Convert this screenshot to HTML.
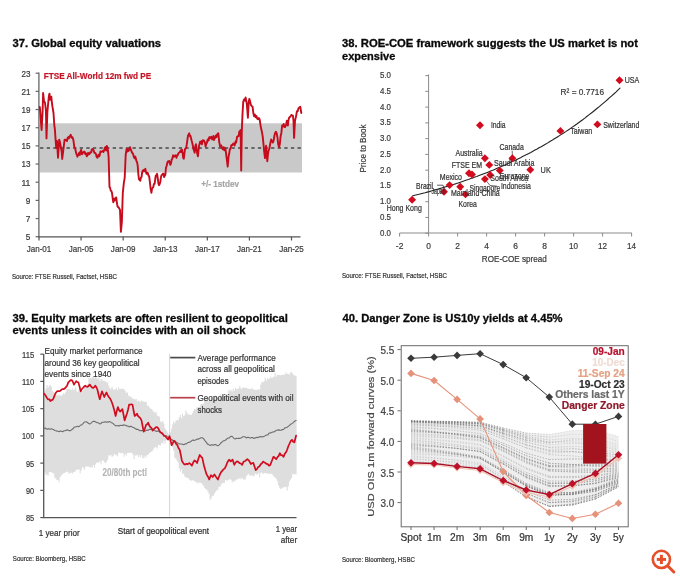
<!DOCTYPE html>
<html><head><meta charset="utf-8"><title>Charts</title>
<style>html,body{margin:0;padding:0;background:#fff;}svg{display:block;}text{font-family:'Liberation Sans', Arial, Helvetica, sans-serif;}</style>
</head><body>
<svg width="680" height="578" viewBox="0 0 680 578">
<rect width="680" height="578" fill="#fff"/>
<text x="12.5" y="46.6" font-size="10.6" fill="#0a0a0a" font-weight="bold" text-anchor="start" textLength="148.5" lengthAdjust="spacingAndGlyphs" stroke="#0a0a0a" stroke-width="0.3">37. Global equity valuations</text>
<rect x="39.5" y="123.3" width="262.5" height="49.2" fill="#c9c9c9"/>
<line x1="40.1" y1="148" x2="302" y2="148" stroke="#474747" stroke-width="1.5" stroke-dasharray="3.3,3.3"/>
<line x1="38.9" y1="72.5" x2="38.9" y2="237.5" stroke="#666" stroke-width="1.3"/>
<line x1="38.5" y1="236.8" x2="300.5" y2="236.8" stroke="#555" stroke-width="1.3"/>
<line x1="35.6" y1="73.2" x2="38.9" y2="73.2" stroke="#666" stroke-width="1.2"/>
<text x="30.4" y="76.60000000000001" font-size="9.6" fill="#3a3a3a" text-anchor="end" textLength="9.0" lengthAdjust="spacingAndGlyphs" stroke="#3a3a3a" stroke-width="0.22">23</text>
<line x1="35.6" y1="91.37" x2="38.9" y2="91.37" stroke="#666" stroke-width="1.2"/>
<text x="30.4" y="94.77000000000001" font-size="9.6" fill="#3a3a3a" text-anchor="end" textLength="9.0" lengthAdjust="spacingAndGlyphs" stroke="#3a3a3a" stroke-width="0.22">21</text>
<line x1="35.6" y1="109.54" x2="38.9" y2="109.54" stroke="#666" stroke-width="1.2"/>
<text x="30.4" y="112.94000000000001" font-size="9.6" fill="#3a3a3a" text-anchor="end" textLength="9.0" lengthAdjust="spacingAndGlyphs" stroke="#3a3a3a" stroke-width="0.22">19</text>
<line x1="35.6" y1="127.71000000000001" x2="38.9" y2="127.71000000000001" stroke="#666" stroke-width="1.2"/>
<text x="30.4" y="131.11" font-size="9.6" fill="#3a3a3a" text-anchor="end" textLength="9.0" lengthAdjust="spacingAndGlyphs" stroke="#3a3a3a" stroke-width="0.22">17</text>
<line x1="35.6" y1="145.88" x2="38.9" y2="145.88" stroke="#666" stroke-width="1.2"/>
<text x="30.4" y="149.28" font-size="9.6" fill="#3a3a3a" text-anchor="end" textLength="9.0" lengthAdjust="spacingAndGlyphs" stroke="#3a3a3a" stroke-width="0.22">15</text>
<line x1="35.6" y1="164.05" x2="38.9" y2="164.05" stroke="#666" stroke-width="1.2"/>
<text x="30.4" y="167.45000000000002" font-size="9.6" fill="#3a3a3a" text-anchor="end" textLength="9.0" lengthAdjust="spacingAndGlyphs" stroke="#3a3a3a" stroke-width="0.22">13</text>
<line x1="35.6" y1="182.22000000000003" x2="38.9" y2="182.22000000000003" stroke="#666" stroke-width="1.2"/>
<text x="30.4" y="185.62000000000003" font-size="9.6" fill="#3a3a3a" text-anchor="end" textLength="9.0" lengthAdjust="spacingAndGlyphs" stroke="#3a3a3a" stroke-width="0.22">11</text>
<line x1="35.6" y1="200.39000000000001" x2="38.9" y2="200.39000000000001" stroke="#666" stroke-width="1.2"/>
<text x="30.4" y="203.79000000000002" font-size="9.6" fill="#3a3a3a" text-anchor="end" textLength="4.6" lengthAdjust="spacingAndGlyphs" stroke="#3a3a3a" stroke-width="0.22">9</text>
<line x1="35.6" y1="218.56" x2="38.9" y2="218.56" stroke="#666" stroke-width="1.2"/>
<text x="30.4" y="221.96" font-size="9.6" fill="#3a3a3a" text-anchor="end" textLength="4.6" lengthAdjust="spacingAndGlyphs" stroke="#3a3a3a" stroke-width="0.22">7</text>
<line x1="35.6" y1="236.73000000000002" x2="38.9" y2="236.73000000000002" stroke="#666" stroke-width="1.2"/>
<text x="30.4" y="240.13000000000002" font-size="9.6" fill="#3a3a3a" text-anchor="end" textLength="4.6" lengthAdjust="spacingAndGlyphs" stroke="#3a3a3a" stroke-width="0.22">5</text>
<line x1="39.0" y1="236.8" x2="39.0" y2="240.5" stroke="#555" stroke-width="1.2"/>
<text x="39.0" y="251.8" font-size="9.8" fill="#3a3a3a" text-anchor="middle" textLength="24.6" lengthAdjust="spacingAndGlyphs" stroke="#3a3a3a" stroke-width="0.22">Jan-01</text>
<line x1="81.08" y1="236.8" x2="81.08" y2="240.5" stroke="#555" stroke-width="1.2"/>
<text x="81.08" y="251.8" font-size="9.8" fill="#3a3a3a" text-anchor="middle" textLength="24.6" lengthAdjust="spacingAndGlyphs" stroke="#3a3a3a" stroke-width="0.22">Jan-05</text>
<line x1="123.16" y1="236.8" x2="123.16" y2="240.5" stroke="#555" stroke-width="1.2"/>
<text x="123.16" y="251.8" font-size="9.8" fill="#3a3a3a" text-anchor="middle" textLength="24.6" lengthAdjust="spacingAndGlyphs" stroke="#3a3a3a" stroke-width="0.22">Jan-09</text>
<line x1="165.24" y1="236.8" x2="165.24" y2="240.5" stroke="#555" stroke-width="1.2"/>
<text x="165.24" y="251.8" font-size="9.8" fill="#3a3a3a" text-anchor="middle" textLength="24.6" lengthAdjust="spacingAndGlyphs" stroke="#3a3a3a" stroke-width="0.22">Jan-13</text>
<line x1="207.32" y1="236.8" x2="207.32" y2="240.5" stroke="#555" stroke-width="1.2"/>
<text x="207.32" y="251.8" font-size="9.8" fill="#3a3a3a" text-anchor="middle" textLength="24.6" lengthAdjust="spacingAndGlyphs" stroke="#3a3a3a" stroke-width="0.22">Jan-17</text>
<line x1="249.39999999999998" y1="236.8" x2="249.39999999999998" y2="240.5" stroke="#555" stroke-width="1.2"/>
<text x="249.39999999999998" y="251.8" font-size="9.8" fill="#3a3a3a" text-anchor="middle" textLength="24.6" lengthAdjust="spacingAndGlyphs" stroke="#3a3a3a" stroke-width="0.22">Jan-21</text>
<line x1="291.48" y1="236.8" x2="291.48" y2="240.5" stroke="#555" stroke-width="1.2"/>
<text x="291.48" y="251.8" font-size="9.8" fill="#3a3a3a" text-anchor="middle" textLength="24.6" lengthAdjust="spacingAndGlyphs" stroke="#3a3a3a" stroke-width="0.22">Jan-25</text>
<polyline points="39.8,107.0 40.4,113.9 41.0,122.7 41.6,130.0 42.6,111.8 43.1,93.0 44.0,100.9 45.0,102.7 45.9,110.6 46.5,138.4 47.4,111.8 48.3,102.0 48.9,96.0 49.5,93.6 50.1,99.7 51.3,96.7 51.9,102.6 52.5,107.0 53.5,113.0 54.3,125.0 54.9,129.5 55.5,138.4 56.2,148.0 57.0,141.0 58.0,157.8 58.6,148.9 59.2,139.6 60.1,143.1 61.0,148.0 61.6,151.2 62.2,159.0 63.1,151.8 64.0,144.5 64.6,139.6 65.2,139.6 66.1,140.0 67.0,141.0 67.6,137.9 68.3,137.1 68.9,138.4 69.8,136.2 70.7,134.8 71.6,137.7 72.5,137.2 73.4,140.1 74.3,146.9 75.2,148.5 76.1,153.0 76.7,154.3 77.4,156.7 78.0,155.0 78.6,154.6 79.2,152.8 79.8,155.0 80.4,151.7 81.2,149.8 82.0,154.4 82.8,153.0 83.4,152.2 84.0,151.7 84.6,151.8 85.2,154.0 86.0,153.3 86.8,156.3 87.6,155.0 88.2,152.8 88.8,154.4 89.4,154.2 90.0,153.0 90.6,151.9 91.2,152.4 91.8,149.5 92.5,149.0 93.1,149.4 93.7,150.5 94.4,152.9 95.1,153.0 95.9,153.9 96.6,156.8 97.3,157.8 97.9,156.5 98.5,154.7 99.2,156.3 99.8,154.8 100.4,151.4 101.0,151.7 101.6,151.8 102.3,151.3 102.9,150.9 103.5,151.9 104.2,150.2 104.8,148.0 105.5,146.9 106.2,150.5 106.9,146.0 107.6,148.0 108.6,156.6 109.5,187.0 110.1,187.9 110.8,190.9 111.4,190.9 112.0,192.9 112.7,198.4 113.3,202.3 113.9,198.6 114.6,200.6 115.2,198.5 116.2,197.5 117.1,204.2 117.7,206.8 118.4,207.1 119.0,208.0 120.0,209.9 120.9,231.8 121.9,221.3 122.8,192.8 123.8,183.3 124.7,177.6 125.7,154.7 126.6,149.0 127.2,151.6 127.9,149.3 128.5,150.9 129.2,150.0 130.0,147.1 130.7,149.5 131.4,150.9 132.0,152.6 132.7,153.2 133.3,154.7 133.9,157.1 134.6,158.3 135.2,156.6 135.8,158.4 136.5,161.3 137.1,162.3 137.7,165.7 138.4,174.8 139.0,179.5 139.6,179.6 140.3,180.8 140.9,177.6 141.5,177.0 142.2,172.0 142.8,170.9 143.4,170.0 144.1,171.2 144.7,170.0 145.3,168.8 146.0,172.3 146.6,173.8 147.2,172.7 147.9,173.1 148.5,175.7 149.2,176.3 149.8,181.4 150.6,188.5 151.4,192.8 152.0,188.9 152.7,187.6 153.3,187.0 153.9,183.9 154.6,183.9 155.2,179.5 155.8,175.4 156.5,175.4 157.1,173.8 157.7,177.9 158.4,183.4 159.0,185.2 159.6,184.3 160.3,182.0 160.9,177.6 161.5,175.2 162.2,174.6 162.8,173.8 163.4,173.7 164.1,177.1 164.7,175.7 165.3,174.9 166.0,167.5 166.6,166.1 167.3,162.8 167.9,161.4 168.6,161.2 169.2,161.0 169.8,163.5 170.4,164.8 171.0,163.2 171.7,159.5 172.3,158.7 173.1,155.3 173.9,156.7 174.7,156.3 175.3,155.3 175.9,156.0 176.5,157.8 177.1,155.1 177.7,155.3 178.3,153.6 178.9,152.7 179.8,152.1 180.7,150.3 181.3,152.0 182.0,149.6 182.6,152.7 183.2,157.8 183.8,158.7 185.0,149.0 185.6,148.9 186.2,147.7 186.8,144.2 188.0,135.7 189.2,133.3 189.8,136.0 190.4,135.7 191.6,140.6 192.2,142.8 192.9,145.7 193.5,149.0 194.7,152.7 195.3,146.4 195.9,144.2 197.1,152.7 197.9,156.3 198.9,146.6 200.1,141.8 200.7,143.3 201.3,141.1 201.9,144.2 202.8,140.2 203.7,140.6 204.3,141.1 205.0,142.8 205.6,146.6 206.2,144.0 206.8,143.0 207.7,139.5 208.6,140.6 209.2,137.2 209.8,137.2 210.4,138.2 211.3,136.7 212.2,139.4 212.8,138.2 213.4,136.0 214.0,140.0 214.6,137.6 215.2,138.0 215.9,135.4 216.5,137.0 217.1,134.5 217.7,133.7 218.3,133.3 219.2,141.8 220.1,146.6 220.7,146.3 221.3,145.4 221.9,147.8 222.8,149.3 223.7,147.2 224.3,150.4 224.9,148.2 225.5,149.0 226.7,158.7 227.7,166.6 228.6,156.3 229.2,153.8 229.8,149.3 230.4,149.0 231.3,145.1 232.2,145.4 232.8,144.2 233.4,143.4 234.0,144.2 234.7,145.4 235.5,141.4 236.2,142.6 237.0,137.0 237.8,136.3 238.6,136.3 239.3,131.7 239.9,131.0 240.6,130.1 241.2,170.6 241.8,131.7 242.4,116.1 243.2,102.1 244.0,99.5 244.8,100.6 245.6,97.4 246.2,100.8 246.8,103.7 247.9,117.7 248.7,102.1 249.3,98.9 249.9,100.6 251.0,105.2 251.8,106.1 252.6,106.8 253.3,113.0 254.1,116.3 254.9,114.6 255.7,117.2 256.5,116.1 257.2,118.7 258.0,119.2 258.8,118.0 259.6,119.2 260.3,123.9 261.1,128.6 261.9,131.8 262.7,136.3 263.5,144.1 264.2,151.9 265.0,158.1 266.1,145.7 267.3,161.2 268.0,154.0 268.6,150.3 269.4,148.6 270.1,144.1 271.2,139.5 272.0,141.2 272.8,142.6 273.6,140.9 274.3,136.3 275.1,133.1 275.9,131.7 276.7,133.4 277.5,137.9 278.2,144.2 279.0,147.2 279.8,144.3 280.6,136.3 281.4,132.7 282.1,125.5 282.9,126.3 283.7,123.9 284.4,127.1 285.2,127.0 286.0,125.1 286.8,120.8 287.9,125.5 288.5,120.2 289.1,117.7 289.9,117.0 290.7,116.1 291.4,114.9 292.2,115.3 292.9,115.6 293.5,120.8 294.1,137.9 295.0,120.8 296.1,116.1 296.9,111.3 297.7,111.4 298.4,108.4 299.2,107.6 300.3,106.8 301.3,113.0" fill="none" stroke="#c60b1d" stroke-width="1.9" stroke-linejoin="round" stroke-linecap="round"/>
<text x="43.7" y="79.1" font-size="9.6" fill="#c41628" font-weight="bold" text-anchor="start" textLength="107.5" lengthAdjust="spacingAndGlyphs" stroke="#c41628" stroke-width="0.22">FTSE All-World 12m fwd PE</text>
<text x="201.3" y="187.1" font-size="9.4" fill="#a6a6a6" font-weight="bold" text-anchor="start" textLength="37.8" lengthAdjust="spacingAndGlyphs" stroke="#a6a6a6" stroke-width="0.22">+/- 1stdev</text>
<text x="12" y="278.6" font-size="7.5" fill="#333" text-anchor="start" textLength="105" lengthAdjust="spacingAndGlyphs" stroke="#333" stroke-width="0.22">Source: FTSE Russell, Factset, HSBC</text>
<text x="342" y="46.6" font-size="10.6" fill="#0a0a0a" font-weight="bold" text-anchor="start" textLength="296" lengthAdjust="spacingAndGlyphs" stroke="#0a0a0a" stroke-width="0.3">38. ROE-COE framework suggests the US market is not</text>
<text x="342" y="59.6" font-size="10.6" fill="#0a0a0a" font-weight="bold" text-anchor="start" textLength="53.3" lengthAdjust="spacingAndGlyphs" stroke="#0a0a0a" stroke-width="0.3">expensive</text>
<line x1="399.6" y1="233" x2="631.9" y2="233" stroke="#8a8a8a" stroke-width="1"/>
<line x1="428.6" y1="74.5" x2="428.6" y2="233" stroke="#8a8a8a" stroke-width="1"/>
<line x1="425.3" y1="233.2" x2="428.6" y2="233.2" stroke="#8a8a8a" stroke-width="1"/>
<text x="391" y="235.6" font-size="9.3" fill="#3a3a3a" text-anchor="end" textLength="11" lengthAdjust="spacingAndGlyphs" stroke="#3a3a3a" stroke-width="0.22">0.0</text>
<line x1="425.3" y1="217.44" x2="428.6" y2="217.44" stroke="#8a8a8a" stroke-width="1"/>
<text x="391" y="219.84" font-size="9.3" fill="#3a3a3a" text-anchor="end" textLength="11" lengthAdjust="spacingAndGlyphs" stroke="#3a3a3a" stroke-width="0.22">0.5</text>
<line x1="425.3" y1="201.67999999999998" x2="428.6" y2="201.67999999999998" stroke="#8a8a8a" stroke-width="1"/>
<text x="391" y="204.07999999999998" font-size="9.3" fill="#3a3a3a" text-anchor="end" textLength="11" lengthAdjust="spacingAndGlyphs" stroke="#3a3a3a" stroke-width="0.22">1.0</text>
<line x1="425.3" y1="185.92" x2="428.6" y2="185.92" stroke="#8a8a8a" stroke-width="1"/>
<text x="391" y="188.32" font-size="9.3" fill="#3a3a3a" text-anchor="end" textLength="11" lengthAdjust="spacingAndGlyphs" stroke="#3a3a3a" stroke-width="0.22">1.5</text>
<line x1="425.3" y1="170.16" x2="428.6" y2="170.16" stroke="#8a8a8a" stroke-width="1"/>
<text x="391" y="172.56" font-size="9.3" fill="#3a3a3a" text-anchor="end" textLength="11" lengthAdjust="spacingAndGlyphs" stroke="#3a3a3a" stroke-width="0.22">2.0</text>
<line x1="425.3" y1="154.39999999999998" x2="428.6" y2="154.39999999999998" stroke="#8a8a8a" stroke-width="1"/>
<text x="391" y="156.79999999999998" font-size="9.3" fill="#3a3a3a" text-anchor="end" textLength="11" lengthAdjust="spacingAndGlyphs" stroke="#3a3a3a" stroke-width="0.22">2.5</text>
<line x1="425.3" y1="138.64" x2="428.6" y2="138.64" stroke="#8a8a8a" stroke-width="1"/>
<text x="391" y="141.04" font-size="9.3" fill="#3a3a3a" text-anchor="end" textLength="11" lengthAdjust="spacingAndGlyphs" stroke="#3a3a3a" stroke-width="0.22">3.0</text>
<line x1="425.3" y1="122.88" x2="428.6" y2="122.88" stroke="#8a8a8a" stroke-width="1"/>
<text x="391" y="125.28" font-size="9.3" fill="#3a3a3a" text-anchor="end" textLength="11" lengthAdjust="spacingAndGlyphs" stroke="#3a3a3a" stroke-width="0.22">3.5</text>
<line x1="425.3" y1="107.11999999999999" x2="428.6" y2="107.11999999999999" stroke="#8a8a8a" stroke-width="1"/>
<text x="391" y="109.52" font-size="9.3" fill="#3a3a3a" text-anchor="end" textLength="11" lengthAdjust="spacingAndGlyphs" stroke="#3a3a3a" stroke-width="0.22">4.0</text>
<line x1="425.3" y1="91.35999999999999" x2="428.6" y2="91.35999999999999" stroke="#8a8a8a" stroke-width="1"/>
<text x="391" y="93.75999999999999" font-size="9.3" fill="#3a3a3a" text-anchor="end" textLength="11" lengthAdjust="spacingAndGlyphs" stroke="#3a3a3a" stroke-width="0.22">4.5</text>
<line x1="425.3" y1="75.6" x2="428.6" y2="75.6" stroke="#8a8a8a" stroke-width="1"/>
<text x="391" y="78.0" font-size="9.3" fill="#3a3a3a" text-anchor="end" textLength="11" lengthAdjust="spacingAndGlyphs" stroke="#3a3a3a" stroke-width="0.22">5.0</text>
<line x1="399.6" y1="233" x2="399.6" y2="236.5" stroke="#8a8a8a" stroke-width="1"/>
<text x="399.6" y="249.2" font-size="9.6" fill="#3a3a3a" text-anchor="middle" textLength="7.5" lengthAdjust="spacingAndGlyphs" stroke="#3a3a3a" stroke-width="0.22">-2</text>
<line x1="428.6" y1="233" x2="428.6" y2="236.5" stroke="#8a8a8a" stroke-width="1"/>
<text x="428.6" y="249.2" font-size="9.6" fill="#3a3a3a" text-anchor="middle" textLength="4.7" lengthAdjust="spacingAndGlyphs" stroke="#3a3a3a" stroke-width="0.22">0</text>
<line x1="457.6" y1="233" x2="457.6" y2="236.5" stroke="#8a8a8a" stroke-width="1"/>
<text x="457.6" y="249.2" font-size="9.6" fill="#3a3a3a" text-anchor="middle" textLength="4.7" lengthAdjust="spacingAndGlyphs" stroke="#3a3a3a" stroke-width="0.22">2</text>
<line x1="486.6" y1="233" x2="486.6" y2="236.5" stroke="#8a8a8a" stroke-width="1"/>
<text x="486.6" y="249.2" font-size="9.6" fill="#3a3a3a" text-anchor="middle" textLength="4.7" lengthAdjust="spacingAndGlyphs" stroke="#3a3a3a" stroke-width="0.22">4</text>
<line x1="515.6" y1="233" x2="515.6" y2="236.5" stroke="#8a8a8a" stroke-width="1"/>
<text x="515.6" y="249.2" font-size="9.6" fill="#3a3a3a" text-anchor="middle" textLength="4.7" lengthAdjust="spacingAndGlyphs" stroke="#3a3a3a" stroke-width="0.22">6</text>
<line x1="544.6" y1="233" x2="544.6" y2="236.5" stroke="#8a8a8a" stroke-width="1"/>
<text x="544.6" y="249.2" font-size="9.6" fill="#3a3a3a" text-anchor="middle" textLength="4.7" lengthAdjust="spacingAndGlyphs" stroke="#3a3a3a" stroke-width="0.22">8</text>
<line x1="573.6" y1="233" x2="573.6" y2="236.5" stroke="#8a8a8a" stroke-width="1"/>
<text x="573.6" y="249.2" font-size="9.6" fill="#3a3a3a" text-anchor="middle" textLength="9.0" lengthAdjust="spacingAndGlyphs" stroke="#3a3a3a" stroke-width="0.22">10</text>
<line x1="602.6" y1="233" x2="602.6" y2="236.5" stroke="#8a8a8a" stroke-width="1"/>
<text x="602.6" y="249.2" font-size="9.6" fill="#3a3a3a" text-anchor="middle" textLength="9.0" lengthAdjust="spacingAndGlyphs" stroke="#3a3a3a" stroke-width="0.22">12</text>
<line x1="631.6" y1="233" x2="631.6" y2="236.5" stroke="#8a8a8a" stroke-width="1"/>
<text x="631.6" y="249.2" font-size="9.6" fill="#3a3a3a" text-anchor="middle" textLength="9.0" lengthAdjust="spacingAndGlyphs" stroke="#3a3a3a" stroke-width="0.22">14</text>
<text x="514.3" y="261.5" font-size="9.4" fill="#3a3a3a" text-anchor="middle" textLength="65" lengthAdjust="spacingAndGlyphs" stroke="#3a3a3a" stroke-width="0.22">ROE-COE spread</text>
<text x="0" y="0" font-size="8.8" fill="#3a3a3a" stroke="#3a3a3a" stroke-width="0.18" text-anchor="middle" transform="translate(366.2,148.5) rotate(-90)" textLength="47.8" lengthAdjust="spacingAndGlyphs">Price to Book</text>
<polyline points="412.7,195.8 414.7,195.3 416.8,194.8 418.9,194.3 420.9,193.7 423.0,193.2 425.1,192.7 427.2,192.1 429.2,191.6 431.3,191.0 433.4,190.4 435.5,189.8 437.5,189.2 439.6,188.6 441.7,188.0 443.8,187.4 445.8,186.8 447.9,186.2 450.0,185.5 452.0,184.9 454.1,184.2 456.2,183.6 458.3,182.9 460.3,182.2 462.4,181.5 464.5,180.8 466.6,180.1 468.6,179.4 470.7,178.6 472.8,177.9 474.9,177.1 476.9,176.4 479.0,175.6 481.1,174.8 483.1,174.0 485.2,173.2 487.3,172.4 489.4,171.6 491.4,170.7 493.5,169.9 495.6,169.0 497.7,168.1 499.7,167.2 501.8,166.3 503.9,165.4 506.0,164.5 508.0,163.6 510.1,162.6 512.2,161.6 514.3,160.7 516.3,159.7 518.4,158.7 520.5,157.7 522.5,156.6 524.6,155.6 526.7,154.5 528.8,153.4 530.8,152.4 532.9,151.2 535.0,150.1 537.1,149.0 539.1,147.8 541.2,146.7 543.3,145.5 545.4,144.3 547.4,143.1 549.5,141.8 551.6,140.6 553.6,139.3 555.7,138.0 557.8,136.7 559.9,135.4 561.9,134.1 564.0,132.7 566.1,131.4 568.2,130.0 570.2,128.6 572.3,127.1 574.4,125.7 576.5,124.2 578.5,122.7 580.6,121.2 582.7,119.7 584.8,118.1 586.8,116.5 588.9,114.9 591.0,113.3 593.0,111.7 595.1,110.0 597.2,108.3 599.3,106.6 601.3,104.9 603.4,103.1 605.5,101.3 607.6,99.5 609.6,97.7 611.7,95.8 613.8,94.0 615.9,92.1 617.9,90.1 620.0,88.2" fill="none" stroke="#222" stroke-width="1.1" stroke-linejoin="round" stroke-linecap="round"/>
<text x="560.6" y="94.8" font-size="9.4" fill="#3a3a3a" text-anchor="start" textLength="43.5" lengthAdjust="spacingAndGlyphs" stroke="#3a3a3a" stroke-width="0.22">R² = 0.7716</text>
<polyline points="437.5,185.2 443.0,185.2 444.0,188.5" fill="none" stroke="#333" stroke-width="0.8" stroke-linejoin="round" stroke-linecap="round"/>
<polyline points="512.2,151.0 512.4,156.0" fill="none" stroke="#333" stroke-width="0.7" stroke-linejoin="round" stroke-linecap="round"/>
<polyline points="485.9,180.3 490.0,185.5 496.5,186.1" fill="none" stroke="#333" stroke-width="0.7" stroke-linejoin="round" stroke-linecap="round"/>
<rect x="409.3" y="196.9" width="5.6" height="5.6" fill="#d20c1e" transform="rotate(45 412.1 199.7)"/>
<rect x="441.2" y="189.0" width="5.6" height="5.6" fill="#d20c1e" transform="rotate(45 444.0 191.8)"/>
<rect x="446.8" y="182.3" width="5.6" height="5.6" fill="#d20c1e" transform="rotate(45 449.6 185.1)"/>
<rect x="457.4" y="184.0" width="5.6" height="5.6" fill="#d20c1e" transform="rotate(45 460.2 186.8)"/>
<rect x="462.7" y="191.6" width="5.6" height="5.6" fill="#d20c1e" transform="rotate(45 465.5 194.4)"/>
<rect x="466.2" y="170.4" width="5.6" height="5.6" fill="#d20c1e" transform="rotate(45 469.0 173.2)"/>
<rect x="469.2" y="171.7" width="5.6" height="5.6" fill="#d20c1e" transform="rotate(45 472.0 174.5)"/>
<rect x="482.1" y="155.4" width="5.6" height="5.6" fill="#d20c1e" transform="rotate(45 484.9 158.2)"/>
<rect x="486.5" y="162.1" width="5.6" height="5.6" fill="#d20c1e" transform="rotate(45 489.3 164.9)"/>
<rect x="487.4" y="172.2" width="5.6" height="5.6" fill="#d20c1e" transform="rotate(45 490.2 175.0)"/>
<rect x="482.1" y="176.3" width="5.6" height="5.6" fill="#d20c1e" transform="rotate(45 484.9 179.1)"/>
<rect x="497.0" y="167.8" width="5.6" height="5.6" fill="#d20c1e" transform="rotate(45 499.8 170.6)"/>
<rect x="509.6" y="155.4" width="5.6" height="5.6" fill="#d20c1e" transform="rotate(45 512.4 158.2)"/>
<rect x="527.5" y="166.9" width="5.6" height="5.6" fill="#d20c1e" transform="rotate(45 530.3 169.7)"/>
<rect x="557.6" y="128.1" width="5.6" height="5.6" fill="#d20c1e" transform="rotate(45 560.4 130.9)"/>
<rect x="594.6" y="121.6" width="5.6" height="5.6" fill="#d20c1e" transform="rotate(45 597.4 124.4)"/>
<rect x="616.7" y="77.5" width="5.6" height="5.6" fill="#d20c1e" transform="rotate(45 619.5 80.3)"/>
<rect x="477.2" y="122.5" width="5.6" height="5.6" fill="#d20c1e" transform="rotate(45 480.0 125.3)"/>
<text x="624.7" y="83.4" font-size="8.8" fill="#333" text-anchor="start" textLength="14.5" lengthAdjust="spacingAndGlyphs" stroke="#333" stroke-width="0.22">USA</text>
<text x="603.2" y="127.5" font-size="8.8" fill="#333" text-anchor="start" textLength="36.2" lengthAdjust="spacingAndGlyphs" stroke="#333" stroke-width="0.22">Switzerland</text>
<text x="570.3" y="134" font-size="8.8" fill="#333" text-anchor="start" textLength="22" lengthAdjust="spacingAndGlyphs" stroke="#333" stroke-width="0.22">Taiwan</text>
<text x="490.9" y="128.4" font-size="8.8" fill="#333" text-anchor="start" textLength="14.7" lengthAdjust="spacingAndGlyphs" stroke="#333" stroke-width="0.22">India</text>
<text x="499.6" y="149.9" font-size="8.8" fill="#333" text-anchor="start" textLength="24.2" lengthAdjust="spacingAndGlyphs" stroke="#333" stroke-width="0.22">Canada</text>
<text x="455.6" y="155.7" font-size="8.8" fill="#333" text-anchor="start" textLength="27" lengthAdjust="spacingAndGlyphs" stroke="#333" stroke-width="0.22">Australia</text>
<text x="451.8" y="168.4" font-size="8.8" fill="#333" text-anchor="start" textLength="30.3" lengthAdjust="spacingAndGlyphs" stroke="#333" stroke-width="0.22">FTSE EM</text>
<text x="494" y="165.7" font-size="8.8" fill="#333" text-anchor="start" textLength="40.4" lengthAdjust="spacingAndGlyphs" stroke="#333" stroke-width="0.22">Saudi Arabia</text>
<text x="540.6" y="173.3" font-size="8.8" fill="#333" text-anchor="start" textLength="10.2" lengthAdjust="spacingAndGlyphs" stroke="#333" stroke-width="0.22">UK</text>
<text x="499.5" y="178.6" font-size="8.8" fill="#333" text-anchor="start" textLength="30" lengthAdjust="spacingAndGlyphs" stroke="#333" stroke-width="0.22">Eurozone</text>
<text x="490.3" y="180.7" font-size="8.8" fill="#333" text-anchor="start" textLength="37.9" lengthAdjust="spacingAndGlyphs" stroke="#333" stroke-width="0.22">South Africa</text>
<text x="500.9" y="189.2" font-size="8.8" fill="#333" text-anchor="start" textLength="30" lengthAdjust="spacingAndGlyphs" stroke="#333" stroke-width="0.22">Indonesia</text>
<text x="439.8" y="179.9" font-size="8.8" fill="#333" text-anchor="start" textLength="22.2" lengthAdjust="spacingAndGlyphs" stroke="#333" stroke-width="0.22">Mexico</text>
<text x="469.4" y="191.3" font-size="8.8" fill="#333" text-anchor="start" textLength="31" lengthAdjust="spacingAndGlyphs" stroke="#333" stroke-width="0.22">Singapore</text>
<text x="416.1" y="189.2" font-size="8.8" fill="#333" text-anchor="start" textLength="17" lengthAdjust="spacingAndGlyphs" stroke="#333" stroke-width="0.22">Brazil</text>
<text x="431.5" y="194.3" font-size="8.8" fill="#333" text-anchor="start" textLength="14" lengthAdjust="spacingAndGlyphs" stroke="#333" stroke-width="0.22">Japan</text>
<text x="450.9" y="195.7" font-size="8.8" fill="#333" text-anchor="start" textLength="48.9" lengthAdjust="spacingAndGlyphs" stroke="#333" stroke-width="0.22">Mainland China</text>
<text x="458.5" y="206.9" font-size="8.8" fill="#333" text-anchor="start" textLength="18.3" lengthAdjust="spacingAndGlyphs" stroke="#333" stroke-width="0.22">Korea</text>
<text x="386.7" y="210.7" font-size="8.8" fill="#333" text-anchor="start" textLength="35.1" lengthAdjust="spacingAndGlyphs" stroke="#333" stroke-width="0.22">Hong Kong</text>
<text x="342" y="278.4" font-size="7.5" fill="#333" text-anchor="start" textLength="105" lengthAdjust="spacingAndGlyphs" stroke="#333" stroke-width="0.22">Source: FTSE Russell, Factset, HSBC</text>
<text x="12.5" y="322.0" font-size="10.6" fill="#0a0a0a" font-weight="bold" text-anchor="start" textLength="275.5" lengthAdjust="spacingAndGlyphs" stroke="#0a0a0a" stroke-width="0.3">39. Equity markets are often resilient to geopolitical</text>
<text x="12.5" y="334.0" font-size="10.6" fill="#0a0a0a" font-weight="bold" text-anchor="start" textLength="233.1" lengthAdjust="spacingAndGlyphs" stroke="#0a0a0a" stroke-width="0.3">events unless it coincides with an oil shock</text>
<polygon points="44.3,391.2 45.4,391.2 45.4,388.5 46.5,388.5 46.5,384.9 47.6,384.9 47.6,387.4 48.7,387.4 48.7,385.7 49.8,385.7 49.8,385.0 50.9,385.0 50.9,386.7 52.0,386.7 52.0,391.0 53.1,391.0 53.1,392.3 54.2,392.3 54.2,393.4 55.3,393.4 55.3,394.6 56.4,394.6 56.4,395.4 57.5,395.4 57.5,395.3 58.6,395.3 58.6,394.4 59.7,394.4 59.7,395.4 60.8,395.4 60.8,396.1 61.9,396.1 61.9,394.8 63.0,394.8 63.0,393.2 64.1,393.2 64.1,394.2 65.2,394.2 65.2,391.8 66.3,391.8 66.3,389.0 67.4,389.0 67.4,389.0 68.5,389.0 68.5,388.9 69.6,388.9 69.6,389.6 70.7,389.6 70.7,389.9 71.8,389.9 71.8,388.2 72.9,388.2 72.9,390.2 74.0,390.2 74.0,389.2 75.1,389.2 75.1,387.2 76.3,387.2 76.3,391.5 77.4,391.5 77.4,391.8 78.5,391.8 78.5,388.9 79.6,388.9 79.6,391.2 80.7,391.2 80.7,391.9 81.8,391.9 81.8,391.1 82.9,391.1 82.9,390.2 84.0,390.2 84.0,386.4 85.1,386.4 85.1,386.2 86.2,386.2 86.2,387.1 87.3,387.1 87.3,383.9 88.4,383.9 88.4,378.1 89.5,378.1 89.5,378.6 90.6,378.6 90.6,378.3 91.7,378.3 91.7,376.7 92.8,376.7 92.8,377.0 93.9,377.0 93.9,377.9 95.0,377.9 95.0,374.1 96.1,374.1 96.1,378.1 97.2,378.1 97.2,379.3 98.3,379.3 98.3,377.6 99.4,377.6 99.4,381.2 100.5,381.2 100.5,379.1 101.6,379.1 101.6,379.2 102.7,379.2 102.7,380.9 103.8,380.9 103.8,380.9 104.9,380.9 104.9,381.6 106.0,381.6 106.0,382.6 107.1,382.6 107.1,382.6 108.2,382.6 108.2,385.5 109.3,385.5 109.3,387.9 110.4,387.9 110.4,389.1 111.5,389.1 111.5,386.5 112.6,386.5 112.6,389.5 113.7,389.5 113.7,389.6 114.8,389.6 114.8,389.6 115.9,389.6 115.9,388.1 117.0,388.1 117.0,390.2 118.1,390.2 118.1,387.3 119.2,387.3 119.2,389.3 120.3,389.3 120.3,388.9 121.4,388.9 121.4,388.5 122.5,388.5 122.5,389.1 123.6,389.1 123.6,389.2 124.7,389.2 124.7,391.1 125.8,391.1 125.8,392.9 126.9,392.9 126.9,392.3 128.0,392.3 128.0,395.6 129.1,395.6 129.1,396.5 130.2,396.5 130.2,396.6 131.3,396.6 131.3,397.8 132.4,397.8 132.4,398.8 133.5,398.8 133.5,398.9 134.6,398.9 134.6,399.4 135.7,399.4 135.7,399.0 136.8,399.0 136.8,401.2 137.9,401.2 137.9,400.5 139.1,400.5 139.1,401.4 140.2,401.4 140.2,401.5 141.3,401.5 141.3,400.2 142.4,400.2 142.4,401.4 143.5,401.4 143.5,401.7 144.6,401.7 144.6,402.1 145.7,402.1 145.7,401.8 146.8,401.8 146.8,405.4 147.9,405.4 147.9,406.0 149.0,406.0 149.0,407.4 150.1,407.4 150.1,408.5 151.2,408.5 151.2,409.0 152.3,409.0 152.3,410.8 153.4,410.8 153.4,411.7 154.5,411.7 154.5,413.0 155.6,413.0 155.6,411.8 156.7,411.8 156.7,415.6 157.8,415.6 157.8,416.1 158.9,416.1 158.9,416.7 160.0,416.7 160.0,421.4 161.1,421.4 161.1,422.2 162.2,422.2 162.2,420.9 163.3,420.9 163.3,423.6 164.4,423.6 164.4,427.9 165.5,427.9 165.5,430.0 166.6,430.0 166.6,431.5 167.7,431.5 167.7,433.8 168.8,433.8 168.8,433.6 169.9,433.6 169.9,432.3 171.0,432.3 171.0,428.5 172.1,428.5 172.1,424.6 173.2,424.6 173.2,421.5 174.3,421.5 174.3,423.2 175.4,423.2 175.4,420.7 176.5,420.7 176.5,419.9 177.6,419.9 177.6,420.5 178.7,420.5 178.7,417.3 179.8,417.3 179.8,415.0 180.9,415.0 180.9,418.3 182.0,418.3 182.0,413.8 183.1,413.8 183.1,416.3 184.2,416.3 184.2,415.3 185.3,415.3 185.3,410.4 186.4,410.4 186.4,412.8 187.5,412.8 187.5,414.5 188.6,414.5 188.6,414.3 189.7,414.3 189.7,415.0 190.8,415.0 190.8,415.0 191.9,415.0 191.9,413.1 193.0,413.1 193.0,411.1 194.1,411.1 194.1,408.9 195.2,408.9 195.2,409.5 196.3,409.5 196.3,407.4 197.4,407.4 197.4,406.9 198.5,406.9 198.5,406.9 199.6,406.9 199.6,405.6 200.7,405.6 200.7,404.1 201.8,404.1 201.8,403.7 203.0,403.7 203.0,403.8 204.1,403.8 204.1,397.9 205.2,397.9 205.2,400.3 206.3,400.3 206.3,397.2 207.4,397.2 207.4,401.3 208.5,401.3 208.5,400.6 209.6,400.6 209.6,400.6 210.7,400.6 210.7,398.3 211.8,398.3 211.8,399.5 212.9,399.5 212.9,399.4 214.0,399.4 214.0,398.5 215.1,398.5 215.1,395.6 216.2,395.6 216.2,396.2 217.3,396.2 217.3,397.8 218.4,397.8 218.4,397.7 219.5,397.7 219.5,394.3 220.6,394.3 220.6,396.2 221.7,396.2 221.7,395.4 222.8,395.4 222.8,396.6 223.9,396.6 223.9,396.1 225.0,396.1 225.0,394.0 226.1,394.0 226.1,394.0 227.2,394.0 227.2,393.9 228.3,393.9 228.3,389.7 229.4,389.7 229.4,391.3 230.5,391.3 230.5,389.8 231.6,389.8 231.6,391.4 232.7,391.4 232.7,388.7 233.8,388.7 233.8,390.7 234.9,390.7 234.9,387.8 236.0,387.8 236.0,389.2 237.1,389.2 237.1,389.1 238.2,389.1 238.2,388.3 239.3,388.3 239.3,385.7 240.4,385.7 240.4,388.4 241.5,388.4 241.5,388.4 242.6,388.4 242.6,387.3 243.7,387.3 243.7,387.7 244.8,387.7 244.8,387.7 245.9,387.7 245.9,388.0 247.0,388.0 247.0,388.6 248.1,388.6 248.1,388.8 249.2,388.8 249.2,389.0 250.3,389.0 250.3,389.2 251.4,389.2 251.4,388.0 252.5,388.0 252.5,389.5 253.6,389.5 253.6,389.3 254.7,389.3 254.7,390.1 255.8,390.1 255.8,389.7 256.9,389.7 256.9,389.9 258.0,389.9 258.0,389.3 259.1,389.3 259.1,389.4 260.2,389.4 260.2,384.5 261.3,384.5 261.3,382.1 262.4,382.1 262.4,382.3 263.5,382.3 263.5,381.2 264.6,381.2 264.6,378.0 265.8,378.0 265.8,380.8 266.9,380.8 266.9,378.2 268.0,378.2 268.0,379.1 269.1,379.1 269.1,378.4 270.2,378.4 270.2,376.6 271.3,376.6 271.3,378.0 272.4,378.0 272.4,377.5 273.5,377.5 273.5,376.6 274.6,376.6 274.6,372.6 275.7,372.6 275.7,376.8 276.8,376.8 276.8,374.7 277.9,374.7 277.9,375.0 279.0,375.0 279.0,374.9 280.1,374.9 280.1,375.2 281.2,375.2 281.2,375.0 282.3,375.0 282.3,375.1 283.4,375.1 283.4,374.6 284.5,374.6 284.5,374.4 285.6,374.4 285.6,372.4 286.7,372.4 286.7,373.7 287.8,373.7 287.8,374.1 288.9,374.1 288.9,374.4 290.0,374.4 290.0,372.3 291.1,372.3 291.1,372.2 292.2,372.2 292.2,373.6 293.3,373.6 293.3,375.0 294.4,375.0 294.4,375.6 295.5,375.6 295.5,375.9 296.6,375.9 296.6,474.5 295.5,474.5 295.5,473.9 294.4,473.9 294.4,474.5 293.3,474.5 293.3,474.1 292.2,474.1 292.2,477.9 291.1,477.9 291.1,479.7 290.0,479.7 290.0,481.6 288.9,481.6 288.9,486.2 287.8,486.2 287.8,490.5 286.7,490.5 286.7,486.8 285.6,486.8 285.6,487.2 284.5,487.2 284.5,486.9 283.4,486.9 283.4,487.8 282.3,487.8 282.3,488.4 281.2,488.4 281.2,488.9 280.1,488.9 280.1,487.5 279.0,487.5 279.0,485.2 277.9,485.2 277.9,481.3 276.8,481.3 276.8,478.9 275.7,478.9 275.7,477.5 274.6,477.5 274.6,476.9 273.5,476.9 273.5,475.2 272.4,475.2 272.4,474.0 271.3,474.0 271.3,473.9 270.2,473.9 270.2,473.4 269.1,473.4 269.1,473.9 268.0,473.9 268.0,473.3 266.9,473.3 266.9,473.8 265.8,473.8 265.8,473.0 264.6,473.0 264.6,473.0 263.5,473.0 263.5,474.3 262.4,474.3 262.4,472.5 261.3,472.5 261.3,472.7 260.2,472.7 260.2,477.6 259.1,477.6 259.1,472.9 258.0,472.9 258.0,474.6 256.9,474.6 256.9,474.6 255.8,474.6 255.8,473.6 254.7,473.6 254.7,476.0 253.6,476.0 253.6,476.6 252.5,476.6 252.5,475.0 251.4,475.0 251.4,475.4 250.3,475.4 250.3,475.9 249.2,475.9 249.2,473.9 248.1,473.9 248.1,474.7 247.0,474.7 247.0,476.1 245.9,476.1 245.9,479.5 244.8,479.5 244.8,479.6 243.7,479.6 243.7,479.4 242.6,479.4 242.6,477.8 241.5,477.8 241.5,479.2 240.4,479.2 240.4,478.0 239.3,478.0 239.3,479.2 238.2,479.2 238.2,479.1 237.1,479.1 237.1,479.8 236.0,479.8 236.0,480.5 234.9,480.5 234.9,481.4 233.8,481.4 233.8,481.3 232.7,481.3 232.7,482.4 231.6,482.4 231.6,479.9 230.5,479.9 230.5,479.1 229.4,479.1 229.4,479.7 228.3,479.7 228.3,480.4 227.2,480.4 227.2,480.4 226.1,480.4 226.1,480.0 225.0,480.0 225.0,482.7 223.9,482.7 223.9,482.9 222.8,482.9 222.8,483.2 221.7,483.2 221.7,484.8 220.6,484.8 220.6,486.7 219.5,486.7 219.5,486.9 218.4,486.9 218.4,490.0 217.3,490.0 217.3,490.3 216.2,490.3 216.2,491.7 215.1,491.7 215.1,493.6 214.0,493.6 214.0,496.1 212.9,496.1 212.9,495.7 211.8,495.7 211.8,498.2 210.7,498.2 210.7,500.0 209.6,500.0 209.6,493.9 208.5,493.9 208.5,491.4 207.4,491.4 207.4,489.8 206.3,489.8 206.3,489.0 205.2,489.0 205.2,488.0 204.1,488.0 204.1,485.8 203.0,485.8 203.0,484.5 201.8,484.5 201.8,482.9 200.7,482.9 200.7,482.7 199.6,482.7 199.6,482.6 198.5,482.6 198.5,483.7 197.4,483.7 197.4,482.1 196.3,482.1 196.3,482.5 195.2,482.5 195.2,481.0 194.1,481.0 194.1,480.5 193.0,480.5 193.0,480.2 191.9,480.2 191.9,480.7 190.8,480.7 190.8,480.2 189.7,480.2 189.7,479.6 188.6,479.6 188.6,478.0 187.5,478.0 187.5,478.0 186.4,478.0 186.4,477.3 185.3,477.3 185.3,476.4 184.2,476.4 184.2,473.5 183.1,473.5 183.1,474.1 182.0,474.1 182.0,469.3 180.9,469.3 180.9,471.8 179.8,471.8 179.8,468.2 178.7,468.2 178.7,462.4 177.6,462.4 177.6,460.7 176.5,460.7 176.5,458.8 175.4,458.8 175.4,457.7 174.3,457.7 174.3,450.7 173.2,450.7 173.2,447.3 172.1,447.3 172.1,444.7 171.0,444.7 171.0,445.7 169.9,445.7 169.9,440.1 168.8,440.1 168.8,439.8 167.7,439.8 167.7,439.1 166.6,439.1 166.6,440.4 165.5,440.4 165.5,444.0 164.4,444.0 164.4,440.8 163.3,440.8 163.3,443.5 162.2,443.5 162.2,442.8 161.1,442.8 161.1,445.6 160.0,445.6 160.0,445.2 158.9,445.2 158.9,444.9 157.8,444.9 157.8,448.4 156.7,448.4 156.7,447.3 155.6,447.3 155.6,447.3 154.5,447.3 154.5,448.4 153.4,448.4 153.4,450.4 152.3,450.4 152.3,451.4 151.2,451.4 151.2,452.2 150.1,452.2 150.1,453.1 149.0,453.1 149.0,454.5 147.9,454.5 147.9,455.1 146.8,455.1 146.8,457.6 145.7,457.6 145.7,455.8 144.6,455.8 144.6,458.1 143.5,458.1 143.5,458.2 142.4,458.2 142.4,455.1 141.3,455.1 141.3,457.5 140.2,457.5 140.2,455.3 139.1,455.3 139.1,457.0 137.9,457.0 137.9,454.8 136.8,454.8 136.8,455.4 135.7,455.4 135.7,455.4 134.6,455.4 134.6,459.2 133.5,459.2 133.5,454.4 132.4,454.4 132.4,453.1 131.3,453.1 131.3,452.8 130.2,452.8 130.2,452.8 129.1,452.8 129.1,452.7 128.0,452.7 128.0,453.1 126.9,453.1 126.9,455.6 125.8,455.6 125.8,453.9 124.7,453.9 124.7,456.8 123.6,456.8 123.6,453.3 122.5,453.3 122.5,453.1 121.4,453.1 121.4,453.3 120.3,453.3 120.3,452.4 119.2,452.4 119.2,452.7 118.1,452.7 118.1,456.3 117.0,456.3 117.0,455.2 115.9,455.2 115.9,454.7 114.8,454.7 114.8,454.0 113.7,454.0 113.7,456.1 112.6,456.1 112.6,457.0 111.5,457.0 111.5,454.7 110.4,454.7 110.4,455.7 109.3,455.7 109.3,455.3 108.2,455.3 108.2,459.9 107.1,459.9 107.1,461.9 106.0,461.9 106.0,463.3 104.9,463.3 104.9,462.2 103.8,462.2 103.8,460.6 102.7,460.6 102.7,460.5 101.6,460.5 101.6,464.2 100.5,464.2 100.5,461.4 99.4,461.4 99.4,462.4 98.3,462.4 98.3,462.5 97.2,462.5 97.2,462.7 96.1,462.7 96.1,464.4 95.0,464.4 95.0,467.9 93.9,467.9 93.9,464.9 92.8,464.9 92.8,467.4 91.7,467.4 91.7,467.3 90.6,467.3 90.6,467.6 89.5,467.6 89.5,466.8 88.4,466.8 88.4,466.4 87.3,466.4 87.3,466.5 86.2,466.5 86.2,466.8 85.1,466.8 85.1,469.8 84.0,469.8 84.0,467.8 82.9,467.8 82.9,467.5 81.8,467.5 81.8,470.6 80.7,470.6 80.7,473.2 79.6,473.2 79.6,469.4 78.5,469.4 78.5,469.3 77.4,469.3 77.4,470.0 76.3,470.0 76.3,470.6 75.1,470.6 75.1,471.9 74.0,471.9 74.0,472.3 72.9,472.3 72.9,473.4 71.8,473.4 71.8,472.7 70.7,472.7 70.7,472.8 69.6,472.8 69.6,473.9 68.5,473.9 68.5,472.2 67.4,472.2 67.4,471.6 66.3,471.6 66.3,472.2 65.2,472.2 65.2,473.0 64.1,473.0 64.1,473.2 63.0,473.2 63.0,474.3 61.9,474.3 61.9,475.2 60.8,475.2 60.8,476.9 59.7,476.9 59.7,482.6 58.6,482.6 58.6,480.0 57.5,480.0 57.5,480.2 56.4,480.2 56.4,478.4 55.3,478.4 55.3,477.6 54.2,477.6 54.2,473.6 53.1,473.6 53.1,473.0 52.0,473.0 52.0,472.3 50.9,472.3 50.9,471.9 49.8,471.9 49.8,472.2 48.7,472.2 48.7,475.8 47.6,475.8 47.6,474.5 46.5,474.5 46.5,475.0 45.4,475.0 45.4,472.5 44.3,472.5" fill="#dedede"/>
<line x1="169.6" y1="354" x2="169.6" y2="516.5" stroke="#c8c8c8" stroke-width="0.8"/>
<line x1="43.7" y1="354" x2="43.7" y2="518" stroke="#555" stroke-width="1.3"/>
<line x1="43.2" y1="517.6" x2="296.5" y2="517.6" stroke="#555" stroke-width="1.3"/>
<line x1="40.3" y1="354.2" x2="43.7" y2="354.2" stroke="#555" stroke-width="1.2"/>
<text x="34.2" y="357.59999999999997" font-size="9.6" fill="#3a3a3a" text-anchor="end" textLength="12.2" lengthAdjust="spacingAndGlyphs" stroke="#3a3a3a" stroke-width="0.22">115</text>
<line x1="40.3" y1="381.43" x2="43.7" y2="381.43" stroke="#555" stroke-width="1.2"/>
<text x="34.2" y="384.83" font-size="9.6" fill="#3a3a3a" text-anchor="end" textLength="12.2" lengthAdjust="spacingAndGlyphs" stroke="#3a3a3a" stroke-width="0.22">110</text>
<line x1="40.3" y1="408.65999999999997" x2="43.7" y2="408.65999999999997" stroke="#555" stroke-width="1.2"/>
<text x="34.2" y="412.05999999999995" font-size="9.6" fill="#3a3a3a" text-anchor="end" textLength="12.2" lengthAdjust="spacingAndGlyphs" stroke="#3a3a3a" stroke-width="0.22">105</text>
<line x1="40.3" y1="435.89" x2="43.7" y2="435.89" stroke="#555" stroke-width="1.2"/>
<text x="34.2" y="439.28999999999996" font-size="9.6" fill="#3a3a3a" text-anchor="end" textLength="12.2" lengthAdjust="spacingAndGlyphs" stroke="#3a3a3a" stroke-width="0.22">100</text>
<line x1="40.3" y1="463.12" x2="43.7" y2="463.12" stroke="#555" stroke-width="1.2"/>
<text x="34.2" y="466.52" font-size="9.6" fill="#3a3a3a" text-anchor="end" textLength="8.2" lengthAdjust="spacingAndGlyphs" stroke="#3a3a3a" stroke-width="0.22">95</text>
<line x1="40.3" y1="490.35" x2="43.7" y2="490.35" stroke="#555" stroke-width="1.2"/>
<text x="34.2" y="493.75" font-size="9.6" fill="#3a3a3a" text-anchor="end" textLength="8.2" lengthAdjust="spacingAndGlyphs" stroke="#3a3a3a" stroke-width="0.22">90</text>
<line x1="40.3" y1="517.5799999999999" x2="43.7" y2="517.5799999999999" stroke="#555" stroke-width="1.2"/>
<text x="34.2" y="520.9799999999999" font-size="9.6" fill="#3a3a3a" text-anchor="end" textLength="8.2" lengthAdjust="spacingAndGlyphs" stroke="#3a3a3a" stroke-width="0.22">85</text>
<polyline points="44.2,428.4 45.2,427.9 46.2,428.9 47.2,429.2 48.2,428.8 49.2,428.9 50.3,429.2 51.5,428.7 52.6,429.3 53.7,429.6 54.8,430.5 56.0,430.7 57.1,431.2 58.2,431.1 59.3,431.8 60.5,431.1 61.6,431.2 62.7,431.8 63.8,430.8 65.0,430.7 66.1,430.4 67.2,429.6 68.3,430.5 69.5,430.6 70.6,430.7 71.7,429.7 72.9,428.8 74.0,427.3 75.1,427.0 76.2,426.9 77.4,426.1 78.5,426.8 79.6,426.2 80.7,425.0 81.8,424.9 83.0,423.7 84.1,422.4 85.2,421.7 86.3,421.8 87.5,422.5 88.6,423.5 89.7,423.9 90.8,423.5 92.0,422.1 93.1,421.4 94.2,421.2 95.3,421.8 96.4,422.4 97.6,422.7 98.7,423.0 99.8,423.9 100.9,423.6 102.0,422.4 103.2,422.3 104.3,422.1 105.4,421.7 106.6,422.2 107.7,421.8 108.8,422.1 110.0,421.6 111.1,422.4 112.2,422.9 113.4,423.8 114.5,424.9 115.6,425.8 116.8,425.7 117.9,425.6 119.0,426.1 120.1,425.2 121.2,425.5 122.4,425.4 123.5,424.9 124.6,425.1 125.8,425.2 126.9,426.0 128.0,426.1 129.1,426.9 130.2,426.3 131.4,426.4 132.5,427.2 133.6,427.6 134.8,428.2 135.9,429.1 137.0,429.4 138.1,429.3 139.2,430.4 140.4,430.6 141.5,430.6 142.6,430.6 143.8,430.2 144.9,431.2 146.0,430.6 147.1,430.1 148.2,430.4 149.3,429.4 150.4,429.4 151.5,429.4 152.7,430.3 153.8,430.1 154.9,430.6 156.0,431.4 157.2,431.1 158.3,431.0 159.4,431.7 160.5,432.2 161.7,433.3 162.8,434.4 163.9,435.1 165.0,436.2 166.2,435.8 167.3,436.6 168.4,437.3 169.5,437.8 170.7,439.6 171.8,439.4 172.9,440.7 174.0,440.7 175.2,441.3 176.3,442.2 177.4,442.9 178.5,443.7 179.7,443.9 180.8,444.0 181.9,444.0 183.0,444.6 184.2,444.5 185.3,443.8 186.4,444.0 187.4,442.8 188.5,442.4 189.6,442.3 190.8,441.5 191.9,440.6 193.1,439.9 194.2,440.5 195.4,440.1 196.5,439.6 197.7,439.1 198.8,438.9 200.0,438.3 201.1,437.7 202.3,437.7 203.6,438.6 204.9,440.6 206.2,442.1 207.5,444.1 208.6,444.3 209.8,445.4 210.9,445.3 212.1,444.6 213.2,445.4 214.4,444.6 215.6,444.6 216.7,445.2 217.9,445.8 219.0,445.1 220.2,443.9 221.3,442.4 222.5,441.7 223.6,440.7 224.8,440.6 225.9,439.7 227.1,438.7 228.2,438.0 229.4,437.9 230.5,436.5 231.7,436.3 232.8,437.0 234.0,438.5 235.1,438.9 236.3,438.2 237.4,438.5 238.6,438.4 239.8,438.4 240.9,437.9 242.1,437.2 243.1,436.7 244.2,436.7 245.2,436.8 246.3,437.9 247.3,437.4 248.3,437.2 249.4,437.8 250.4,438.1 251.4,437.5 252.4,437.5 253.5,438.4 254.5,437.9 255.5,437.9 256.6,437.3 257.6,437.7 258.7,437.1 259.7,436.9 260.8,436.4 261.8,436.9 263.0,436.7 264.2,436.4 265.4,435.6 266.6,435.0 267.8,434.9 269.1,433.2 270.3,432.9 271.5,432.6 272.7,432.0 273.9,431.9 275.1,431.3 276.3,430.2 277.5,430.1 278.7,429.9 279.9,430.1 281.1,430.2 282.3,429.6 283.6,429.5 284.8,427.9 286.0,427.7 287.2,427.2 288.4,426.2 289.6,425.4 290.8,424.1 291.9,423.7 292.9,422.8 294.0,421.7 295.0,421.0 296.1,420.5" fill="none" stroke="#6e6e6e" stroke-width="1.1" stroke-linejoin="round" stroke-linecap="round"/>
<polyline points="44.2,393.7 45.6,395.6 47.0,398.0 48.1,399.5 49.3,399.3 50.4,401.0 51.5,400.0 52.6,400.0 53.7,397.9 54.9,394.6 56.0,392.5 57.1,391.4 58.2,391.0 59.3,391.3 60.4,390.7 61.6,389.6 62.7,389.1 63.8,389.1 65.0,388.2 66.1,386.9 67.2,385.4 68.3,382.4 69.4,381.3 70.6,380.2 71.7,380.1 72.8,381.7 74.0,384.6 75.1,382.9 76.2,381.2 77.3,382.1 78.4,382.4 79.6,386.8 80.7,391.3 81.8,389.2 82.9,388.0 84.1,386.7 85.2,385.7 86.3,386.5 87.4,386.9 88.6,386.0 89.7,384.6 90.8,386.1 92.0,387.4 93.1,388.0 94.2,387.1 95.3,385.7 96.4,387.3 97.6,390.2 98.7,395.2 99.8,399.2 100.9,394.9 102.0,391.3 103.2,394.3 104.3,397.0 105.4,394.5 106.5,392.5 107.7,395.1 108.8,397.0 109.9,398.2 111.0,400.3 112.2,403.2 113.4,407.0 114.5,411.1 115.6,416.0 116.8,410.9 117.9,407.0 119.0,409.9 120.1,411.5 121.2,410.5 122.4,409.2 123.5,414.5 124.6,420.4 125.8,416.9 126.9,413.7 128.0,410.0 129.1,404.7 130.2,404.7 131.4,404.3 132.5,404.7 133.6,410.8 134.7,416.0 135.8,415.1 137.0,413.7 138.1,416.2 139.2,417.1 140.3,418.1 141.5,420.4 142.6,426.0 143.7,431.7 144.8,428.8 146.0,424.9 147.1,424.3 148.2,422.7 149.3,425.6 150.4,427.2 151.6,428.2 152.7,430.6 153.8,429.1 154.9,428.3 156.1,427.1 157.2,427.2 158.3,428.4 159.4,430.6 160.5,432.5 161.7,432.9 162.8,433.9 163.9,435.7 165.1,436.0 166.2,437.3 168.0,439.6 169.6,436.2 170.7,441.3 171.8,445.2 172.9,442.9 174.0,440.7 175.1,441.8 176.3,444.1 177.4,445.2 178.6,448.2 179.7,449.7 180.8,454.7 181.9,460.9 183.1,462.8 184.2,464.3 185.3,464.5 186.4,463.8 187.5,464.3 189.3,463.1 190.6,464.2 191.9,465.7 193.2,462.5 194.5,460.5 195.8,461.3 197.1,463.1 198.4,458.7 199.7,455.0 201.0,456.6 202.3,457.9 204.0,465.7 205.3,470.3 206.6,474.4 207.9,476.5 209.2,479.5 210.9,475.2 212.7,477.0 214.4,474.4 216.1,477.0 217.9,479.5 219.6,475.2 220.9,472.3 222.2,470.9 223.5,469.3 224.8,468.3 226.1,465.6 227.4,462.3 229.1,459.7 230.8,461.4 232.6,459.7 234.3,464.8 235.6,462.6 236.9,461.4 238.2,461.9 239.5,463.1 240.8,463.5 242.1,464.8 243.6,461.6 244.8,461.3 246.1,460.1 247.3,459.2 248.5,460.1 249.7,461.8 250.9,464.0 252.1,463.2 253.3,462.8 254.5,466.5 255.7,470.1 256.9,469.1 258.2,467.0 259.4,466.5 260.6,464.3 261.8,463.5 263.0,461.6 264.2,462.3 265.4,462.9 266.6,464.0 267.8,464.1 269.0,465.6 270.2,465.3 271.3,462.2 272.3,459.7 273.4,456.8 274.9,457.8 276.3,459.2 277.5,457.1 278.7,455.8 279.9,453.2 281.1,455.2 282.3,455.4 283.5,456.8 284.7,453.9 286.0,452.3 287.2,449.5 288.4,446.0 289.6,443.5 290.8,440.9 292.0,439.8 293.2,441.7 294.4,442.3 296.1,435.5" fill="none" stroke="#d00c1e" stroke-width="1.7" stroke-linejoin="round" stroke-linecap="round"/>
<text x="44.5" y="354.4" font-size="9.4" fill="#333" text-anchor="start" textLength="98" lengthAdjust="spacingAndGlyphs" stroke="#333" stroke-width="0.22">Equity market performance</text>
<text x="44.5" y="365.6" font-size="9.4" fill="#333" text-anchor="start" textLength="95" lengthAdjust="spacingAndGlyphs" stroke="#333" stroke-width="0.22">around 36 key geopolitical</text>
<text x="44.5" y="376.9" font-size="9.4" fill="#333" text-anchor="start" textLength="67" lengthAdjust="spacingAndGlyphs" stroke="#333" stroke-width="0.22">events since 1940</text>
<line x1="170.2" y1="357.6" x2="195.3" y2="357.6" stroke="#4a4a4a" stroke-width="1.7"/>
<text x="197.5" y="360.8" font-size="9.4" fill="#333" text-anchor="start" textLength="78.3" lengthAdjust="spacingAndGlyphs" stroke="#333" stroke-width="0.22">Average performance</text>
<text x="197.5" y="372.3" font-size="9.4" fill="#333" text-anchor="start" textLength="77.2" lengthAdjust="spacingAndGlyphs" stroke="#333" stroke-width="0.22">across all geopolitical</text>
<text x="197.5" y="384" font-size="9.4" fill="#333" text-anchor="start" textLength="31" lengthAdjust="spacingAndGlyphs" stroke="#333" stroke-width="0.22">episodes</text>
<line x1="170.2" y1="397.7" x2="195.3" y2="397.7" stroke="#b8424c" stroke-width="1.7"/>
<text x="197.5" y="401" font-size="9.4" fill="#333" text-anchor="start" textLength="96" lengthAdjust="spacingAndGlyphs" stroke="#333" stroke-width="0.22">Geopolitical events with oil</text>
<text x="197.5" y="412.7" font-size="9.4" fill="#333" text-anchor="start" textLength="24.5" lengthAdjust="spacingAndGlyphs" stroke="#333" stroke-width="0.22">shocks</text>
<text x="102.5" y="475.7" font-size="10.2" fill="#b4b4b4" font-weight="bold" text-anchor="start" textLength="44.5" lengthAdjust="spacingAndGlyphs" stroke="#b4b4b4" stroke-width="0.1">20/80th pctl</text>
<text x="38.7" y="535.5" font-size="9.4" fill="#333" text-anchor="start" textLength="41.1" lengthAdjust="spacingAndGlyphs" stroke="#333" stroke-width="0.22">1 year prior</text>
<text x="117.8" y="533.8" font-size="9.4" fill="#2a2a2a" text-anchor="start" textLength="91.3" lengthAdjust="spacingAndGlyphs" stroke="#2a2a2a" stroke-width="0.22">Start of geopolitical event</text>
<text x="297.2" y="532.4" font-size="9.4" fill="#333" text-anchor="end" textLength="21.5" lengthAdjust="spacingAndGlyphs" stroke="#333" stroke-width="0.22">1 year</text>
<text x="297.2" y="543.4" font-size="9.4" fill="#333" text-anchor="end" textLength="16.5" lengthAdjust="spacingAndGlyphs" stroke="#333" stroke-width="0.22">after</text>
<text x="12.8" y="561.3" font-size="7.4" fill="#333" text-anchor="start" textLength="72.9" lengthAdjust="spacingAndGlyphs" stroke="#333" stroke-width="0.22">Source: Bloomberg, HSBC</text>
<text x="342.5" y="322.1" font-size="10.6" fill="#0a0a0a" font-weight="bold" text-anchor="start" textLength="220.1" lengthAdjust="spacingAndGlyphs" stroke="#0a0a0a" stroke-width="0.3">40. Danger Zone is US10y yields at 4.45%</text>
<rect x="401.2" y="345.7" width="227.0" height="181.1" fill="none" stroke="#6a6a6a" stroke-width="1"/>
<line x1="397.5" y1="349.6" x2="400.8" y2="349.6" stroke="#6a6a6a" stroke-width="1"/>
<text x="394.2" y="354.20000000000005" font-size="10.2" fill="#444" text-anchor="end" textLength="13.8" lengthAdjust="spacingAndGlyphs" stroke="#444" stroke-width="0.22">5.5</text>
<line x1="397.5" y1="380.20000000000005" x2="400.8" y2="380.20000000000005" stroke="#6a6a6a" stroke-width="1"/>
<text x="394.2" y="384.80000000000007" font-size="10.2" fill="#444" text-anchor="end" textLength="13.8" lengthAdjust="spacingAndGlyphs" stroke="#444" stroke-width="0.22">5.0</text>
<line x1="397.5" y1="410.8" x2="400.8" y2="410.8" stroke="#6a6a6a" stroke-width="1"/>
<text x="394.2" y="415.40000000000003" font-size="10.2" fill="#444" text-anchor="end" textLength="13.8" lengthAdjust="spacingAndGlyphs" stroke="#444" stroke-width="0.22">4.5</text>
<line x1="397.5" y1="441.40000000000003" x2="400.8" y2="441.40000000000003" stroke="#6a6a6a" stroke-width="1"/>
<text x="394.2" y="446.00000000000006" font-size="10.2" fill="#444" text-anchor="end" textLength="13.8" lengthAdjust="spacingAndGlyphs" stroke="#444" stroke-width="0.22">4.0</text>
<line x1="397.5" y1="472.0" x2="400.8" y2="472.0" stroke="#6a6a6a" stroke-width="1"/>
<text x="394.2" y="476.6" font-size="10.2" fill="#444" text-anchor="end" textLength="13.8" lengthAdjust="spacingAndGlyphs" stroke="#444" stroke-width="0.22">3.5</text>
<line x1="397.5" y1="502.6" x2="400.8" y2="502.6" stroke="#6a6a6a" stroke-width="1"/>
<text x="394.2" y="507.20000000000005" font-size="10.2" fill="#444" text-anchor="end" textLength="13.8" lengthAdjust="spacingAndGlyphs" stroke="#444" stroke-width="0.22">3.0</text>
<text x="0" y="0" font-size="9.7" fill="#444" stroke="#444" stroke-width="0.18" text-anchor="middle" transform="translate(374.3,436.5) rotate(-90)" textLength="160.6" lengthAdjust="spacingAndGlyphs">USD OIS 1m forward curves (%)</text>
<line x1="411.0" y1="526.8" x2="411.0" y2="530" stroke="#6a6a6a" stroke-width="1"/>
<text x="411.0" y="540.7" font-size="10.2" fill="#333" text-anchor="middle" stroke="#333" stroke-width="0.22">Spot</text>
<line x1="434.05" y1="526.8" x2="434.05" y2="530" stroke="#6a6a6a" stroke-width="1"/>
<text x="434.05" y="540.7" font-size="10.2" fill="#333" text-anchor="middle" stroke="#333" stroke-width="0.22">1m</text>
<line x1="457.1" y1="526.8" x2="457.1" y2="530" stroke="#6a6a6a" stroke-width="1"/>
<text x="457.1" y="540.7" font-size="10.2" fill="#333" text-anchor="middle" stroke="#333" stroke-width="0.22">2m</text>
<line x1="480.15" y1="526.8" x2="480.15" y2="530" stroke="#6a6a6a" stroke-width="1"/>
<text x="480.15" y="540.7" font-size="10.2" fill="#333" text-anchor="middle" stroke="#333" stroke-width="0.22">3m</text>
<line x1="503.2" y1="526.8" x2="503.2" y2="530" stroke="#6a6a6a" stroke-width="1"/>
<text x="503.2" y="540.7" font-size="10.2" fill="#333" text-anchor="middle" stroke="#333" stroke-width="0.22">6m</text>
<line x1="526.25" y1="526.8" x2="526.25" y2="530" stroke="#6a6a6a" stroke-width="1"/>
<text x="526.25" y="540.7" font-size="10.2" fill="#333" text-anchor="middle" stroke="#333" stroke-width="0.22">9m</text>
<line x1="549.3" y1="526.8" x2="549.3" y2="530" stroke="#6a6a6a" stroke-width="1"/>
<text x="549.3" y="540.7" font-size="10.2" fill="#333" text-anchor="middle" stroke="#333" stroke-width="0.22">1y</text>
<line x1="572.35" y1="526.8" x2="572.35" y2="530" stroke="#6a6a6a" stroke-width="1"/>
<text x="572.35" y="540.7" font-size="10.2" fill="#333" text-anchor="middle" stroke="#333" stroke-width="0.22">2y</text>
<line x1="595.4" y1="526.8" x2="595.4" y2="530" stroke="#6a6a6a" stroke-width="1"/>
<text x="595.4" y="540.7" font-size="10.2" fill="#333" text-anchor="middle" stroke="#333" stroke-width="0.22">3y</text>
<line x1="618.45" y1="526.8" x2="618.45" y2="530" stroke="#6a6a6a" stroke-width="1"/>
<text x="618.45" y="540.7" font-size="10.2" fill="#333" text-anchor="middle" stroke="#333" stroke-width="0.22">5y</text>
<polygon points="411.0,420.8 434.1,421.2 457.1,421.6 480.1,422.2 503.2,428.0 526.2,433.0 549.3,434.5 572.4,430.5 595.4,430.0 618.5,436.5 618.5,487.0 595.4,499.0 572.4,505.0 549.3,506.5 526.2,497.0 503.2,482.0 480.1,468.0 457.1,465.0 434.1,463.0 411.0,462.0" fill="#eeeeee"/>
<line x1="411.0" y1="420.8" x2="434.1" y2="421.2" stroke="#6f6f6f" stroke-width="0.9" stroke-dasharray="1.4,1.45" opacity="0.80"/>
<line x1="434.1" y1="421.2" x2="457.1" y2="421.6" stroke="#6f6f6f" stroke-width="0.9" stroke-dasharray="1.4,1.45" opacity="0.80"/>
<line x1="457.1" y1="421.6" x2="480.1" y2="422.2" stroke="#6f6f6f" stroke-width="0.9" stroke-dasharray="1.4,1.45" opacity="0.80"/>
<line x1="480.1" y1="422.2" x2="503.2" y2="428.0" stroke="#6f6f6f" stroke-width="0.9" stroke-dasharray="1.4,1.45" opacity="0.68"/>
<line x1="503.2" y1="428.0" x2="526.2" y2="433.0" stroke="#6f6f6f" stroke-width="0.9" stroke-dasharray="1.4,1.45" opacity="0.52"/>
<line x1="526.2" y1="433.0" x2="549.3" y2="434.5" stroke="#6f6f6f" stroke-width="0.9" stroke-dasharray="1.4,1.45" opacity="0.37"/>
<line x1="549.3" y1="434.5" x2="572.4" y2="430.5" stroke="#6f6f6f" stroke-width="0.9" stroke-dasharray="1.4,1.45" opacity="0.22"/>
<line x1="572.4" y1="430.5" x2="595.4" y2="430.0" stroke="#6f6f6f" stroke-width="0.9" stroke-dasharray="1.4,1.45" opacity="0.18"/>
<line x1="595.4" y1="430.0" x2="618.5" y2="436.5" stroke="#6f6f6f" stroke-width="0.9" stroke-dasharray="1.4,1.45" opacity="0.18"/>
<line x1="411.0" y1="420.9" x2="434.1" y2="421.5" stroke="#6f6f6f" stroke-width="0.9" stroke-dasharray="1.4,1.45" opacity="0.80"/>
<line x1="434.1" y1="421.5" x2="457.1" y2="422.1" stroke="#6f6f6f" stroke-width="0.9" stroke-dasharray="1.4,1.45" opacity="0.80"/>
<line x1="457.1" y1="422.1" x2="480.1" y2="423.0" stroke="#6f6f6f" stroke-width="0.9" stroke-dasharray="1.4,1.45" opacity="0.80"/>
<line x1="480.1" y1="423.0" x2="503.2" y2="429.3" stroke="#6f6f6f" stroke-width="0.9" stroke-dasharray="1.4,1.45" opacity="0.68"/>
<line x1="503.2" y1="429.3" x2="526.2" y2="434.9" stroke="#6f6f6f" stroke-width="0.9" stroke-dasharray="1.4,1.45" opacity="0.53"/>
<line x1="526.2" y1="434.9" x2="549.3" y2="437.3" stroke="#6f6f6f" stroke-width="0.9" stroke-dasharray="1.4,1.45" opacity="0.38"/>
<line x1="549.3" y1="437.3" x2="572.4" y2="434.3" stroke="#6f6f6f" stroke-width="0.9" stroke-dasharray="1.4,1.45" opacity="0.23"/>
<line x1="572.4" y1="434.3" x2="595.4" y2="434.8" stroke="#6f6f6f" stroke-width="0.9" stroke-dasharray="1.4,1.45" opacity="0.19"/>
<line x1="595.4" y1="434.8" x2="618.5" y2="441.4" stroke="#6f6f6f" stroke-width="0.9" stroke-dasharray="1.4,1.45" opacity="0.19"/>
<line x1="411.0" y1="421.1" x2="434.1" y2="422.6" stroke="#6f6f6f" stroke-width="0.9" stroke-dasharray="1.4,1.45" opacity="0.80"/>
<line x1="434.1" y1="422.6" x2="457.1" y2="424.2" stroke="#6f6f6f" stroke-width="0.9" stroke-dasharray="1.4,1.45" opacity="0.80"/>
<line x1="457.1" y1="424.2" x2="480.1" y2="425.9" stroke="#6f6f6f" stroke-width="0.9" stroke-dasharray="1.4,1.45" opacity="0.80"/>
<line x1="480.1" y1="425.9" x2="503.2" y2="433.2" stroke="#6f6f6f" stroke-width="0.9" stroke-dasharray="1.4,1.45" opacity="0.68"/>
<line x1="503.2" y1="433.2" x2="526.2" y2="439.9" stroke="#6f6f6f" stroke-width="0.9" stroke-dasharray="1.4,1.45" opacity="0.53"/>
<line x1="526.2" y1="439.9" x2="549.3" y2="442.8" stroke="#6f6f6f" stroke-width="0.9" stroke-dasharray="1.4,1.45" opacity="0.39"/>
<line x1="549.3" y1="442.8" x2="572.4" y2="439.5" stroke="#6f6f6f" stroke-width="0.9" stroke-dasharray="1.4,1.45" opacity="0.24"/>
<line x1="572.4" y1="439.5" x2="595.4" y2="439.0" stroke="#6f6f6f" stroke-width="0.9" stroke-dasharray="1.4,1.45" opacity="0.20"/>
<line x1="595.4" y1="439.0" x2="618.5" y2="443.9" stroke="#6f6f6f" stroke-width="0.9" stroke-dasharray="1.4,1.45" opacity="0.20"/>
<line x1="411.0" y1="421.4" x2="434.1" y2="422.0" stroke="#6f6f6f" stroke-width="0.9" stroke-dasharray="1.4,1.45" opacity="0.80"/>
<line x1="434.1" y1="422.0" x2="457.1" y2="422.6" stroke="#6f6f6f" stroke-width="0.9" stroke-dasharray="1.4,1.45" opacity="0.80"/>
<line x1="457.1" y1="422.6" x2="480.1" y2="423.6" stroke="#6f6f6f" stroke-width="0.9" stroke-dasharray="1.4,1.45" opacity="0.80"/>
<line x1="480.1" y1="423.6" x2="503.2" y2="430.2" stroke="#6f6f6f" stroke-width="0.9" stroke-dasharray="1.4,1.45" opacity="0.68"/>
<line x1="503.2" y1="430.2" x2="526.2" y2="436.6" stroke="#6f6f6f" stroke-width="0.9" stroke-dasharray="1.4,1.45" opacity="0.54"/>
<line x1="526.2" y1="436.6" x2="549.3" y2="440.0" stroke="#6f6f6f" stroke-width="0.9" stroke-dasharray="1.4,1.45" opacity="0.39"/>
<line x1="549.3" y1="440.0" x2="572.4" y2="438.2" stroke="#6f6f6f" stroke-width="0.9" stroke-dasharray="1.4,1.45" opacity="0.25"/>
<line x1="572.4" y1="438.2" x2="595.4" y2="439.6" stroke="#6f6f6f" stroke-width="0.9" stroke-dasharray="1.4,1.45" opacity="0.21"/>
<line x1="595.4" y1="439.6" x2="618.5" y2="446.0" stroke="#6f6f6f" stroke-width="0.9" stroke-dasharray="1.4,1.45" opacity="0.21"/>
<line x1="411.0" y1="421.8" x2="434.1" y2="422.5" stroke="#6f6f6f" stroke-width="0.9" stroke-dasharray="1.4,1.45" opacity="0.45"/>
<line x1="434.1" y1="422.5" x2="457.1" y2="423.3" stroke="#6f6f6f" stroke-width="0.9" stroke-dasharray="1.4,1.45" opacity="0.45"/>
<line x1="457.1" y1="423.3" x2="480.1" y2="424.5" stroke="#6f6f6f" stroke-width="0.9" stroke-dasharray="1.4,1.45" opacity="0.45"/>
<line x1="480.1" y1="424.5" x2="503.2" y2="431.5" stroke="#6f6f6f" stroke-width="0.9" stroke-dasharray="1.4,1.45" opacity="0.40"/>
<line x1="503.2" y1="431.5" x2="526.2" y2="438.3" stroke="#6f6f6f" stroke-width="0.9" stroke-dasharray="1.4,1.45" opacity="0.35"/>
<line x1="526.2" y1="438.3" x2="549.3" y2="442.1" stroke="#6f6f6f" stroke-width="0.9" stroke-dasharray="1.4,1.45" opacity="0.29"/>
<line x1="549.3" y1="442.1" x2="572.4" y2="440.6" stroke="#6f6f6f" stroke-width="0.9" stroke-dasharray="1.4,1.45" opacity="0.23"/>
<line x1="572.4" y1="440.6" x2="595.4" y2="442.0" stroke="#6f6f6f" stroke-width="0.9" stroke-dasharray="1.4,1.45" opacity="0.22"/>
<line x1="595.4" y1="442.0" x2="618.5" y2="447.7" stroke="#6f6f6f" stroke-width="0.9" stroke-dasharray="1.4,1.45" opacity="0.22"/>
<line x1="411.0" y1="422.1" x2="434.1" y2="423.1" stroke="#6f6f6f" stroke-width="0.9" stroke-dasharray="1.4,1.45" opacity="0.45"/>
<line x1="434.1" y1="423.1" x2="457.1" y2="424.2" stroke="#6f6f6f" stroke-width="0.9" stroke-dasharray="1.4,1.45" opacity="0.45"/>
<line x1="457.1" y1="424.2" x2="480.1" y2="425.7" stroke="#6f6f6f" stroke-width="0.9" stroke-dasharray="1.4,1.45" opacity="0.45"/>
<line x1="480.1" y1="425.7" x2="503.2" y2="433.1" stroke="#6f6f6f" stroke-width="0.9" stroke-dasharray="1.4,1.45" opacity="0.41"/>
<line x1="503.2" y1="433.1" x2="526.2" y2="440.4" stroke="#6f6f6f" stroke-width="0.9" stroke-dasharray="1.4,1.45" opacity="0.35"/>
<line x1="526.2" y1="440.4" x2="549.3" y2="444.6" stroke="#6f6f6f" stroke-width="0.9" stroke-dasharray="1.4,1.45" opacity="0.30"/>
<line x1="549.3" y1="444.6" x2="572.4" y2="443.2" stroke="#6f6f6f" stroke-width="0.9" stroke-dasharray="1.4,1.45" opacity="0.24"/>
<line x1="572.4" y1="443.2" x2="595.4" y2="444.3" stroke="#6f6f6f" stroke-width="0.9" stroke-dasharray="1.4,1.45" opacity="0.23"/>
<line x1="595.4" y1="444.3" x2="618.5" y2="449.3" stroke="#6f6f6f" stroke-width="0.9" stroke-dasharray="1.4,1.45" opacity="0.23"/>
<line x1="411.0" y1="422.6" x2="434.1" y2="422.7" stroke="#6f6f6f" stroke-width="0.9" stroke-dasharray="1.4,1.45" opacity="0.45"/>
<line x1="434.1" y1="422.7" x2="457.1" y2="423.0" stroke="#6f6f6f" stroke-width="0.9" stroke-dasharray="1.4,1.45" opacity="0.45"/>
<line x1="457.1" y1="423.0" x2="480.1" y2="423.9" stroke="#6f6f6f" stroke-width="0.9" stroke-dasharray="1.4,1.45" opacity="0.45"/>
<line x1="480.1" y1="423.9" x2="503.2" y2="430.7" stroke="#6f6f6f" stroke-width="0.9" stroke-dasharray="1.4,1.45" opacity="0.41"/>
<line x1="503.2" y1="430.7" x2="526.2" y2="437.7" stroke="#6f6f6f" stroke-width="0.9" stroke-dasharray="1.4,1.45" opacity="0.36"/>
<line x1="526.2" y1="437.7" x2="549.3" y2="442.2" stroke="#6f6f6f" stroke-width="0.9" stroke-dasharray="1.4,1.45" opacity="0.31"/>
<line x1="549.3" y1="442.2" x2="572.4" y2="442.0" stroke="#6f6f6f" stroke-width="0.9" stroke-dasharray="1.4,1.45" opacity="0.25"/>
<line x1="572.4" y1="442.0" x2="595.4" y2="444.7" stroke="#6f6f6f" stroke-width="0.9" stroke-dasharray="1.4,1.45" opacity="0.24"/>
<line x1="595.4" y1="444.7" x2="618.5" y2="450.8" stroke="#6f6f6f" stroke-width="0.9" stroke-dasharray="1.4,1.45" opacity="0.24"/>
<line x1="411.0" y1="423.0" x2="434.1" y2="424.0" stroke="#6f6f6f" stroke-width="0.9" stroke-dasharray="1.4,1.45" opacity="0.22"/>
<line x1="434.1" y1="424.0" x2="457.1" y2="425.1" stroke="#6f6f6f" stroke-width="0.9" stroke-dasharray="1.4,1.45" opacity="0.22"/>
<line x1="457.1" y1="425.1" x2="480.1" y2="426.7" stroke="#6f6f6f" stroke-width="0.9" stroke-dasharray="1.4,1.45" opacity="0.22"/>
<line x1="480.1" y1="426.7" x2="503.2" y2="434.5" stroke="#6f6f6f" stroke-width="0.9" stroke-dasharray="1.4,1.45" opacity="0.23"/>
<line x1="503.2" y1="434.5" x2="526.2" y2="442.3" stroke="#6f6f6f" stroke-width="0.9" stroke-dasharray="1.4,1.45" opacity="0.23"/>
<line x1="526.2" y1="442.3" x2="549.3" y2="447.1" stroke="#6f6f6f" stroke-width="0.9" stroke-dasharray="1.4,1.45" opacity="0.24"/>
<line x1="549.3" y1="447.1" x2="572.4" y2="446.3" stroke="#6f6f6f" stroke-width="0.9" stroke-dasharray="1.4,1.45" opacity="0.25"/>
<line x1="572.4" y1="446.3" x2="595.4" y2="447.7" stroke="#6f6f6f" stroke-width="0.9" stroke-dasharray="1.4,1.45" opacity="0.25"/>
<line x1="595.4" y1="447.7" x2="618.5" y2="452.2" stroke="#6f6f6f" stroke-width="0.9" stroke-dasharray="1.4,1.45" opacity="0.25"/>
<line x1="411.0" y1="423.5" x2="434.1" y2="424.8" stroke="#6f6f6f" stroke-width="0.9" stroke-dasharray="1.4,1.45" opacity="0.22"/>
<line x1="434.1" y1="424.8" x2="457.1" y2="426.3" stroke="#6f6f6f" stroke-width="0.9" stroke-dasharray="1.4,1.45" opacity="0.22"/>
<line x1="457.1" y1="426.3" x2="480.1" y2="428.2" stroke="#6f6f6f" stroke-width="0.9" stroke-dasharray="1.4,1.45" opacity="0.22"/>
<line x1="480.1" y1="428.2" x2="503.2" y2="436.5" stroke="#6f6f6f" stroke-width="0.9" stroke-dasharray="1.4,1.45" opacity="0.23"/>
<line x1="503.2" y1="436.5" x2="526.2" y2="444.8" stroke="#6f6f6f" stroke-width="0.9" stroke-dasharray="1.4,1.45" opacity="0.24"/>
<line x1="526.2" y1="444.8" x2="549.3" y2="449.9" stroke="#6f6f6f" stroke-width="0.9" stroke-dasharray="1.4,1.45" opacity="0.25"/>
<line x1="549.3" y1="449.9" x2="572.4" y2="449.0" stroke="#6f6f6f" stroke-width="0.9" stroke-dasharray="1.4,1.45" opacity="0.26"/>
<line x1="572.4" y1="449.0" x2="595.4" y2="449.9" stroke="#6f6f6f" stroke-width="0.9" stroke-dasharray="1.4,1.45" opacity="0.26"/>
<line x1="595.4" y1="449.9" x2="618.5" y2="453.5" stroke="#6f6f6f" stroke-width="0.9" stroke-dasharray="1.4,1.45" opacity="0.26"/>
<line x1="411.0" y1="424.0" x2="434.1" y2="425.8" stroke="#6f6f6f" stroke-width="0.9" stroke-dasharray="1.4,1.45" opacity="0.22"/>
<line x1="434.1" y1="425.8" x2="457.1" y2="427.7" stroke="#6f6f6f" stroke-width="0.9" stroke-dasharray="1.4,1.45" opacity="0.22"/>
<line x1="457.1" y1="427.7" x2="480.1" y2="430.1" stroke="#6f6f6f" stroke-width="0.9" stroke-dasharray="1.4,1.45" opacity="0.22"/>
<line x1="480.1" y1="430.1" x2="503.2" y2="438.9" stroke="#6f6f6f" stroke-width="0.9" stroke-dasharray="1.4,1.45" opacity="0.23"/>
<line x1="503.2" y1="438.9" x2="526.2" y2="447.7" stroke="#6f6f6f" stroke-width="0.9" stroke-dasharray="1.4,1.45" opacity="0.24"/>
<line x1="526.2" y1="447.7" x2="549.3" y2="453.1" stroke="#6f6f6f" stroke-width="0.9" stroke-dasharray="1.4,1.45" opacity="0.26"/>
<line x1="549.3" y1="453.1" x2="572.4" y2="451.9" stroke="#6f6f6f" stroke-width="0.9" stroke-dasharray="1.4,1.45" opacity="0.27"/>
<line x1="572.4" y1="451.9" x2="595.4" y2="452.2" stroke="#6f6f6f" stroke-width="0.9" stroke-dasharray="1.4,1.45" opacity="0.27"/>
<line x1="595.4" y1="452.2" x2="618.5" y2="454.8" stroke="#6f6f6f" stroke-width="0.9" stroke-dasharray="1.4,1.45" opacity="0.27"/>
<line x1="411.0" y1="424.6" x2="434.1" y2="424.8" stroke="#6f6f6f" stroke-width="0.9" stroke-dasharray="1.4,1.45" opacity="0.22"/>
<line x1="434.1" y1="424.8" x2="457.1" y2="425.3" stroke="#6f6f6f" stroke-width="0.9" stroke-dasharray="1.4,1.45" opacity="0.22"/>
<line x1="457.1" y1="425.3" x2="480.1" y2="426.4" stroke="#6f6f6f" stroke-width="0.9" stroke-dasharray="1.4,1.45" opacity="0.22"/>
<line x1="480.1" y1="426.4" x2="503.2" y2="433.9" stroke="#6f6f6f" stroke-width="0.9" stroke-dasharray="1.4,1.45" opacity="0.23"/>
<line x1="503.2" y1="433.9" x2="526.2" y2="442.0" stroke="#6f6f6f" stroke-width="0.9" stroke-dasharray="1.4,1.45" opacity="0.25"/>
<line x1="526.2" y1="442.0" x2="549.3" y2="447.7" stroke="#6f6f6f" stroke-width="0.9" stroke-dasharray="1.4,1.45" opacity="0.26"/>
<line x1="549.3" y1="447.7" x2="572.4" y2="448.3" stroke="#6f6f6f" stroke-width="0.9" stroke-dasharray="1.4,1.45" opacity="0.28"/>
<line x1="572.4" y1="448.3" x2="595.4" y2="451.2" stroke="#6f6f6f" stroke-width="0.9" stroke-dasharray="1.4,1.45" opacity="0.28"/>
<line x1="595.4" y1="451.2" x2="618.5" y2="456.0" stroke="#6f6f6f" stroke-width="0.9" stroke-dasharray="1.4,1.45" opacity="0.28"/>
<line x1="411.0" y1="425.2" x2="434.1" y2="425.9" stroke="#6f6f6f" stroke-width="0.9" stroke-dasharray="1.4,1.45" opacity="0.22"/>
<line x1="434.1" y1="425.9" x2="457.1" y2="426.9" stroke="#6f6f6f" stroke-width="0.9" stroke-dasharray="1.4,1.45" opacity="0.22"/>
<line x1="457.1" y1="426.9" x2="480.1" y2="428.6" stroke="#6f6f6f" stroke-width="0.9" stroke-dasharray="1.4,1.45" opacity="0.22"/>
<line x1="480.1" y1="428.6" x2="503.2" y2="436.8" stroke="#6f6f6f" stroke-width="0.9" stroke-dasharray="1.4,1.45" opacity="0.23"/>
<line x1="503.2" y1="436.8" x2="526.2" y2="445.4" stroke="#6f6f6f" stroke-width="0.9" stroke-dasharray="1.4,1.45" opacity="0.25"/>
<line x1="526.2" y1="445.4" x2="549.3" y2="451.3" stroke="#6f6f6f" stroke-width="0.9" stroke-dasharray="1.4,1.45" opacity="0.27"/>
<line x1="549.3" y1="451.3" x2="572.4" y2="451.5" stroke="#6f6f6f" stroke-width="0.9" stroke-dasharray="1.4,1.45" opacity="0.29"/>
<line x1="572.4" y1="451.5" x2="595.4" y2="453.5" stroke="#6f6f6f" stroke-width="0.9" stroke-dasharray="1.4,1.45" opacity="0.29"/>
<line x1="595.4" y1="453.5" x2="618.5" y2="457.1" stroke="#6f6f6f" stroke-width="0.9" stroke-dasharray="1.4,1.45" opacity="0.29"/>
<line x1="411.0" y1="425.8" x2="434.1" y2="426.1" stroke="#6f6f6f" stroke-width="0.9" stroke-dasharray="1.4,1.45" opacity="0.22"/>
<line x1="434.1" y1="426.1" x2="457.1" y2="426.7" stroke="#6f6f6f" stroke-width="0.9" stroke-dasharray="1.4,1.45" opacity="0.22"/>
<line x1="457.1" y1="426.7" x2="480.1" y2="428.1" stroke="#6f6f6f" stroke-width="0.9" stroke-dasharray="1.4,1.45" opacity="0.22"/>
<line x1="480.1" y1="428.1" x2="503.2" y2="436.0" stroke="#6f6f6f" stroke-width="0.9" stroke-dasharray="1.4,1.45" opacity="0.24"/>
<line x1="503.2" y1="436.0" x2="526.2" y2="444.5" stroke="#6f6f6f" stroke-width="0.9" stroke-dasharray="1.4,1.45" opacity="0.26"/>
<line x1="526.2" y1="444.5" x2="549.3" y2="450.7" stroke="#6f6f6f" stroke-width="0.9" stroke-dasharray="1.4,1.45" opacity="0.28"/>
<line x1="549.3" y1="450.7" x2="572.4" y2="451.5" stroke="#6f6f6f" stroke-width="0.9" stroke-dasharray="1.4,1.45" opacity="0.30"/>
<line x1="572.4" y1="451.5" x2="595.4" y2="454.2" stroke="#6f6f6f" stroke-width="0.9" stroke-dasharray="1.4,1.45" opacity="0.30"/>
<line x1="595.4" y1="454.2" x2="618.5" y2="458.2" stroke="#6f6f6f" stroke-width="0.9" stroke-dasharray="1.4,1.45" opacity="0.30"/>
<line x1="411.0" y1="426.4" x2="434.1" y2="428.4" stroke="#6f6f6f" stroke-width="0.9" stroke-dasharray="1.4,1.45" opacity="0.22"/>
<line x1="434.1" y1="428.4" x2="457.1" y2="430.7" stroke="#6f6f6f" stroke-width="0.9" stroke-dasharray="1.4,1.45" opacity="0.22"/>
<line x1="457.1" y1="430.7" x2="480.1" y2="433.5" stroke="#6f6f6f" stroke-width="0.9" stroke-dasharray="1.4,1.45" opacity="0.22"/>
<line x1="480.1" y1="433.5" x2="503.2" y2="443.2" stroke="#6f6f6f" stroke-width="0.9" stroke-dasharray="1.4,1.45" opacity="0.24"/>
<line x1="503.2" y1="443.2" x2="526.2" y2="453.1" stroke="#6f6f6f" stroke-width="0.9" stroke-dasharray="1.4,1.45" opacity="0.26"/>
<line x1="526.2" y1="453.1" x2="549.3" y2="459.4" stroke="#6f6f6f" stroke-width="0.9" stroke-dasharray="1.4,1.45" opacity="0.28"/>
<line x1="549.3" y1="459.4" x2="572.4" y2="458.6" stroke="#6f6f6f" stroke-width="0.9" stroke-dasharray="1.4,1.45" opacity="0.31"/>
<line x1="572.4" y1="458.6" x2="595.4" y2="458.4" stroke="#6f6f6f" stroke-width="0.9" stroke-dasharray="1.4,1.45" opacity="0.31"/>
<line x1="595.4" y1="458.4" x2="618.5" y2="459.3" stroke="#6f6f6f" stroke-width="0.9" stroke-dasharray="1.4,1.45" opacity="0.31"/>
<line x1="411.0" y1="427.1" x2="434.1" y2="428.9" stroke="#6f6f6f" stroke-width="0.9" stroke-dasharray="1.4,1.45" opacity="0.22"/>
<line x1="434.1" y1="428.9" x2="457.1" y2="431.0" stroke="#6f6f6f" stroke-width="0.9" stroke-dasharray="1.4,1.45" opacity="0.22"/>
<line x1="457.1" y1="431.0" x2="480.1" y2="433.6" stroke="#6f6f6f" stroke-width="0.9" stroke-dasharray="1.4,1.45" opacity="0.22"/>
<line x1="480.1" y1="433.6" x2="503.2" y2="443.3" stroke="#6f6f6f" stroke-width="0.9" stroke-dasharray="1.4,1.45" opacity="0.24"/>
<line x1="503.2" y1="443.3" x2="526.2" y2="453.2" stroke="#6f6f6f" stroke-width="0.9" stroke-dasharray="1.4,1.45" opacity="0.27"/>
<line x1="526.2" y1="453.2" x2="549.3" y2="459.7" stroke="#6f6f6f" stroke-width="0.9" stroke-dasharray="1.4,1.45" opacity="0.29"/>
<line x1="549.3" y1="459.7" x2="572.4" y2="459.3" stroke="#6f6f6f" stroke-width="0.9" stroke-dasharray="1.4,1.45" opacity="0.32"/>
<line x1="572.4" y1="459.3" x2="595.4" y2="459.4" stroke="#6f6f6f" stroke-width="0.9" stroke-dasharray="1.4,1.45" opacity="0.32"/>
<line x1="595.4" y1="459.4" x2="618.5" y2="460.3" stroke="#6f6f6f" stroke-width="0.9" stroke-dasharray="1.4,1.45" opacity="0.32"/>
<line x1="411.0" y1="427.8" x2="434.1" y2="428.1" stroke="#6f6f6f" stroke-width="0.9" stroke-dasharray="1.4,1.45" opacity="0.22"/>
<line x1="434.1" y1="428.1" x2="457.1" y2="428.9" stroke="#6f6f6f" stroke-width="0.9" stroke-dasharray="1.4,1.45" opacity="0.22"/>
<line x1="457.1" y1="428.9" x2="480.1" y2="430.4" stroke="#6f6f6f" stroke-width="0.9" stroke-dasharray="1.4,1.45" opacity="0.22"/>
<line x1="480.1" y1="430.4" x2="503.2" y2="438.8" stroke="#6f6f6f" stroke-width="0.9" stroke-dasharray="1.4,1.45" opacity="0.24"/>
<line x1="503.2" y1="438.8" x2="526.2" y2="448.0" stroke="#6f6f6f" stroke-width="0.9" stroke-dasharray="1.4,1.45" opacity="0.27"/>
<line x1="526.2" y1="448.0" x2="549.3" y2="454.7" stroke="#6f6f6f" stroke-width="0.9" stroke-dasharray="1.4,1.45" opacity="0.30"/>
<line x1="549.3" y1="454.7" x2="572.4" y2="455.9" stroke="#6f6f6f" stroke-width="0.9" stroke-dasharray="1.4,1.45" opacity="0.33"/>
<line x1="572.4" y1="455.9" x2="595.4" y2="458.4" stroke="#6f6f6f" stroke-width="0.9" stroke-dasharray="1.4,1.45" opacity="0.33"/>
<line x1="595.4" y1="458.4" x2="618.5" y2="461.3" stroke="#6f6f6f" stroke-width="0.9" stroke-dasharray="1.4,1.45" opacity="0.33"/>
<line x1="411.0" y1="428.5" x2="434.1" y2="431.0" stroke="#6f6f6f" stroke-width="0.9" stroke-dasharray="1.4,1.45" opacity="0.22"/>
<line x1="434.1" y1="431.0" x2="457.1" y2="433.9" stroke="#6f6f6f" stroke-width="0.9" stroke-dasharray="1.4,1.45" opacity="0.22"/>
<line x1="457.1" y1="433.9" x2="480.1" y2="437.2" stroke="#6f6f6f" stroke-width="0.9" stroke-dasharray="1.4,1.45" opacity="0.22"/>
<line x1="480.1" y1="437.2" x2="503.2" y2="447.9" stroke="#6f6f6f" stroke-width="0.9" stroke-dasharray="1.4,1.45" opacity="0.24"/>
<line x1="503.2" y1="447.9" x2="526.2" y2="458.8" stroke="#6f6f6f" stroke-width="0.9" stroke-dasharray="1.4,1.45" opacity="0.27"/>
<line x1="526.2" y1="458.8" x2="549.3" y2="465.6" stroke="#6f6f6f" stroke-width="0.9" stroke-dasharray="1.4,1.45" opacity="0.31"/>
<line x1="549.3" y1="465.6" x2="572.4" y2="464.6" stroke="#6f6f6f" stroke-width="0.9" stroke-dasharray="1.4,1.45" opacity="0.34"/>
<line x1="572.4" y1="464.6" x2="595.4" y2="463.3" stroke="#6f6f6f" stroke-width="0.9" stroke-dasharray="1.4,1.45" opacity="0.34"/>
<line x1="595.4" y1="463.3" x2="618.5" y2="462.3" stroke="#6f6f6f" stroke-width="0.9" stroke-dasharray="1.4,1.45" opacity="0.34"/>
<line x1="411.0" y1="429.2" x2="434.1" y2="431.8" stroke="#6f6f6f" stroke-width="0.9" stroke-dasharray="1.4,1.45" opacity="0.45"/>
<line x1="434.1" y1="431.8" x2="457.1" y2="434.6" stroke="#6f6f6f" stroke-width="0.9" stroke-dasharray="1.4,1.45" opacity="0.45"/>
<line x1="457.1" y1="434.6" x2="480.1" y2="438.0" stroke="#6f6f6f" stroke-width="0.9" stroke-dasharray="1.4,1.45" opacity="0.45"/>
<line x1="480.1" y1="438.0" x2="503.2" y2="448.8" stroke="#6f6f6f" stroke-width="0.9" stroke-dasharray="1.4,1.45" opacity="0.43"/>
<line x1="503.2" y1="448.8" x2="526.2" y2="459.9" stroke="#6f6f6f" stroke-width="0.9" stroke-dasharray="1.4,1.45" opacity="0.41"/>
<line x1="526.2" y1="459.9" x2="549.3" y2="466.9" stroke="#6f6f6f" stroke-width="0.9" stroke-dasharray="1.4,1.45" opacity="0.38"/>
<line x1="549.3" y1="466.9" x2="572.4" y2="466.0" stroke="#6f6f6f" stroke-width="0.9" stroke-dasharray="1.4,1.45" opacity="0.36"/>
<line x1="572.4" y1="466.0" x2="595.4" y2="464.6" stroke="#6f6f6f" stroke-width="0.9" stroke-dasharray="1.4,1.45" opacity="0.35"/>
<line x1="595.4" y1="464.6" x2="618.5" y2="463.3" stroke="#6f6f6f" stroke-width="0.9" stroke-dasharray="1.4,1.45" opacity="0.35"/>
<line x1="411.0" y1="430.0" x2="434.1" y2="431.8" stroke="#6f6f6f" stroke-width="0.9" stroke-dasharray="1.4,1.45" opacity="0.45"/>
<line x1="434.1" y1="431.8" x2="457.1" y2="434.1" stroke="#6f6f6f" stroke-width="0.9" stroke-dasharray="1.4,1.45" opacity="0.45"/>
<line x1="457.1" y1="434.1" x2="480.1" y2="436.9" stroke="#6f6f6f" stroke-width="0.9" stroke-dasharray="1.4,1.45" opacity="0.45"/>
<line x1="480.1" y1="436.9" x2="503.2" y2="447.3" stroke="#6f6f6f" stroke-width="0.9" stroke-dasharray="1.4,1.45" opacity="0.43"/>
<line x1="503.2" y1="447.3" x2="526.2" y2="458.1" stroke="#6f6f6f" stroke-width="0.9" stroke-dasharray="1.4,1.45" opacity="0.41"/>
<line x1="526.2" y1="458.1" x2="549.3" y2="465.3" stroke="#6f6f6f" stroke-width="0.9" stroke-dasharray="1.4,1.45" opacity="0.39"/>
<line x1="549.3" y1="465.3" x2="572.4" y2="465.1" stroke="#6f6f6f" stroke-width="0.9" stroke-dasharray="1.4,1.45" opacity="0.37"/>
<line x1="572.4" y1="465.1" x2="595.4" y2="464.8" stroke="#6f6f6f" stroke-width="0.9" stroke-dasharray="1.4,1.45" opacity="0.36"/>
<line x1="595.4" y1="464.8" x2="618.5" y2="464.2" stroke="#6f6f6f" stroke-width="0.9" stroke-dasharray="1.4,1.45" opacity="0.36"/>
<line x1="411.0" y1="430.7" x2="434.1" y2="432.6" stroke="#6f6f6f" stroke-width="0.9" stroke-dasharray="1.4,1.45" opacity="0.45"/>
<line x1="434.1" y1="432.6" x2="457.1" y2="434.8" stroke="#6f6f6f" stroke-width="0.9" stroke-dasharray="1.4,1.45" opacity="0.45"/>
<line x1="457.1" y1="434.8" x2="480.1" y2="437.6" stroke="#6f6f6f" stroke-width="0.9" stroke-dasharray="1.4,1.45" opacity="0.45"/>
<line x1="480.1" y1="437.6" x2="503.2" y2="448.0" stroke="#6f6f6f" stroke-width="0.9" stroke-dasharray="1.4,1.45" opacity="0.43"/>
<line x1="503.2" y1="448.0" x2="526.2" y2="459.0" stroke="#6f6f6f" stroke-width="0.9" stroke-dasharray="1.4,1.45" opacity="0.42"/>
<line x1="526.2" y1="459.0" x2="549.3" y2="466.3" stroke="#6f6f6f" stroke-width="0.9" stroke-dasharray="1.4,1.45" opacity="0.40"/>
<line x1="549.3" y1="466.3" x2="572.4" y2="466.3" stroke="#6f6f6f" stroke-width="0.9" stroke-dasharray="1.4,1.45" opacity="0.38"/>
<line x1="572.4" y1="466.3" x2="595.4" y2="466.0" stroke="#6f6f6f" stroke-width="0.9" stroke-dasharray="1.4,1.45" opacity="0.37"/>
<line x1="595.4" y1="466.0" x2="618.5" y2="465.1" stroke="#6f6f6f" stroke-width="0.9" stroke-dasharray="1.4,1.45" opacity="0.37"/>
<line x1="411.0" y1="431.5" x2="434.1" y2="432.3" stroke="#6f6f6f" stroke-width="0.9" stroke-dasharray="1.4,1.45" opacity="0.45"/>
<line x1="434.1" y1="432.3" x2="457.1" y2="433.6" stroke="#6f6f6f" stroke-width="0.9" stroke-dasharray="1.4,1.45" opacity="0.45"/>
<line x1="457.1" y1="433.6" x2="480.1" y2="435.7" stroke="#6f6f6f" stroke-width="0.9" stroke-dasharray="1.4,1.45" opacity="0.45"/>
<line x1="480.1" y1="435.7" x2="503.2" y2="445.2" stroke="#6f6f6f" stroke-width="0.9" stroke-dasharray="1.4,1.45" opacity="0.44"/>
<line x1="503.2" y1="445.2" x2="526.2" y2="455.7" stroke="#6f6f6f" stroke-width="0.9" stroke-dasharray="1.4,1.45" opacity="0.42"/>
<line x1="526.2" y1="455.7" x2="549.3" y2="463.2" stroke="#6f6f6f" stroke-width="0.9" stroke-dasharray="1.4,1.45" opacity="0.40"/>
<line x1="549.3" y1="463.2" x2="572.4" y2="464.3" stroke="#6f6f6f" stroke-width="0.9" stroke-dasharray="1.4,1.45" opacity="0.39"/>
<line x1="572.4" y1="464.3" x2="595.4" y2="465.6" stroke="#6f6f6f" stroke-width="0.9" stroke-dasharray="1.4,1.45" opacity="0.38"/>
<line x1="595.4" y1="465.6" x2="618.5" y2="466.0" stroke="#6f6f6f" stroke-width="0.9" stroke-dasharray="1.4,1.45" opacity="0.38"/>
<line x1="411.0" y1="432.4" x2="434.1" y2="432.9" stroke="#6f6f6f" stroke-width="0.9" stroke-dasharray="1.4,1.45" opacity="0.22"/>
<line x1="434.1" y1="432.9" x2="457.1" y2="433.9" stroke="#6f6f6f" stroke-width="0.9" stroke-dasharray="1.4,1.45" opacity="0.22"/>
<line x1="457.1" y1="433.9" x2="480.1" y2="435.7" stroke="#6f6f6f" stroke-width="0.9" stroke-dasharray="1.4,1.45" opacity="0.22"/>
<line x1="480.1" y1="435.7" x2="503.2" y2="445.1" stroke="#6f6f6f" stroke-width="0.9" stroke-dasharray="1.4,1.45" opacity="0.25"/>
<line x1="503.2" y1="445.1" x2="526.2" y2="455.5" stroke="#6f6f6f" stroke-width="0.9" stroke-dasharray="1.4,1.45" opacity="0.30"/>
<line x1="526.2" y1="455.5" x2="549.3" y2="463.2" stroke="#6f6f6f" stroke-width="0.9" stroke-dasharray="1.4,1.45" opacity="0.34"/>
<line x1="549.3" y1="463.2" x2="572.4" y2="464.6" stroke="#6f6f6f" stroke-width="0.9" stroke-dasharray="1.4,1.45" opacity="0.38"/>
<line x1="572.4" y1="464.6" x2="595.4" y2="466.3" stroke="#6f6f6f" stroke-width="0.9" stroke-dasharray="1.4,1.45" opacity="0.39"/>
<line x1="595.4" y1="466.3" x2="618.5" y2="466.9" stroke="#6f6f6f" stroke-width="0.9" stroke-dasharray="1.4,1.45" opacity="0.39"/>
<line x1="411.0" y1="433.2" x2="434.1" y2="434.9" stroke="#6f6f6f" stroke-width="0.9" stroke-dasharray="1.4,1.45" opacity="0.22"/>
<line x1="434.1" y1="434.9" x2="457.1" y2="437.1" stroke="#6f6f6f" stroke-width="0.9" stroke-dasharray="1.4,1.45" opacity="0.22"/>
<line x1="457.1" y1="437.1" x2="480.1" y2="439.9" stroke="#6f6f6f" stroke-width="0.9" stroke-dasharray="1.4,1.45" opacity="0.22"/>
<line x1="480.1" y1="439.9" x2="503.2" y2="450.6" stroke="#6f6f6f" stroke-width="0.9" stroke-dasharray="1.4,1.45" opacity="0.26"/>
<line x1="503.2" y1="450.6" x2="526.2" y2="462.0" stroke="#6f6f6f" stroke-width="0.9" stroke-dasharray="1.4,1.45" opacity="0.30"/>
<line x1="526.2" y1="462.0" x2="549.3" y2="469.8" stroke="#6f6f6f" stroke-width="0.9" stroke-dasharray="1.4,1.45" opacity="0.35"/>
<line x1="549.3" y1="469.8" x2="572.4" y2="470.0" stroke="#6f6f6f" stroke-width="0.9" stroke-dasharray="1.4,1.45" opacity="0.39"/>
<line x1="572.4" y1="470.0" x2="595.4" y2="469.5" stroke="#6f6f6f" stroke-width="0.9" stroke-dasharray="1.4,1.45" opacity="0.40"/>
<line x1="595.4" y1="469.5" x2="618.5" y2="467.7" stroke="#6f6f6f" stroke-width="0.9" stroke-dasharray="1.4,1.45" opacity="0.40"/>
<line x1="411.0" y1="434.0" x2="434.1" y2="434.7" stroke="#6f6f6f" stroke-width="0.9" stroke-dasharray="1.4,1.45" opacity="0.22"/>
<line x1="434.1" y1="434.7" x2="457.1" y2="435.9" stroke="#6f6f6f" stroke-width="0.9" stroke-dasharray="1.4,1.45" opacity="0.22"/>
<line x1="457.1" y1="435.9" x2="480.1" y2="437.9" stroke="#6f6f6f" stroke-width="0.9" stroke-dasharray="1.4,1.45" opacity="0.22"/>
<line x1="480.1" y1="437.9" x2="503.2" y2="447.8" stroke="#6f6f6f" stroke-width="0.9" stroke-dasharray="1.4,1.45" opacity="0.26"/>
<line x1="503.2" y1="447.8" x2="526.2" y2="458.6" stroke="#6f6f6f" stroke-width="0.9" stroke-dasharray="1.4,1.45" opacity="0.31"/>
<line x1="526.2" y1="458.6" x2="549.3" y2="466.6" stroke="#6f6f6f" stroke-width="0.9" stroke-dasharray="1.4,1.45" opacity="0.35"/>
<line x1="549.3" y1="466.6" x2="572.4" y2="467.8" stroke="#6f6f6f" stroke-width="0.9" stroke-dasharray="1.4,1.45" opacity="0.40"/>
<line x1="572.4" y1="467.8" x2="595.4" y2="469.0" stroke="#6f6f6f" stroke-width="0.9" stroke-dasharray="1.4,1.45" opacity="0.41"/>
<line x1="595.4" y1="469.0" x2="618.5" y2="468.6" stroke="#6f6f6f" stroke-width="0.9" stroke-dasharray="1.4,1.45" opacity="0.41"/>
<line x1="411.0" y1="434.9" x2="434.1" y2="435.9" stroke="#6f6f6f" stroke-width="0.9" stroke-dasharray="1.4,1.45" opacity="0.22"/>
<line x1="434.1" y1="435.9" x2="457.1" y2="437.4" stroke="#6f6f6f" stroke-width="0.9" stroke-dasharray="1.4,1.45" opacity="0.22"/>
<line x1="457.1" y1="437.4" x2="480.1" y2="439.7" stroke="#6f6f6f" stroke-width="0.9" stroke-dasharray="1.4,1.45" opacity="0.22"/>
<line x1="480.1" y1="439.7" x2="503.2" y2="450.0" stroke="#6f6f6f" stroke-width="0.9" stroke-dasharray="1.4,1.45" opacity="0.26"/>
<line x1="503.2" y1="450.0" x2="526.2" y2="461.2" stroke="#6f6f6f" stroke-width="0.9" stroke-dasharray="1.4,1.45" opacity="0.31"/>
<line x1="526.2" y1="461.2" x2="549.3" y2="469.3" stroke="#6f6f6f" stroke-width="0.9" stroke-dasharray="1.4,1.45" opacity="0.36"/>
<line x1="549.3" y1="469.3" x2="572.4" y2="470.2" stroke="#6f6f6f" stroke-width="0.9" stroke-dasharray="1.4,1.45" opacity="0.41"/>
<line x1="572.4" y1="470.2" x2="595.4" y2="470.7" stroke="#6f6f6f" stroke-width="0.9" stroke-dasharray="1.4,1.45" opacity="0.42"/>
<line x1="595.4" y1="470.7" x2="618.5" y2="469.4" stroke="#6f6f6f" stroke-width="0.9" stroke-dasharray="1.4,1.45" opacity="0.42"/>
<line x1="411.0" y1="435.8" x2="434.1" y2="436.9" stroke="#6f6f6f" stroke-width="0.9" stroke-dasharray="1.4,1.45" opacity="0.22"/>
<line x1="434.1" y1="436.9" x2="457.1" y2="438.5" stroke="#6f6f6f" stroke-width="0.9" stroke-dasharray="1.4,1.45" opacity="0.22"/>
<line x1="457.1" y1="438.5" x2="480.1" y2="441.0" stroke="#6f6f6f" stroke-width="0.9" stroke-dasharray="1.4,1.45" opacity="0.22"/>
<line x1="480.1" y1="441.0" x2="503.2" y2="451.6" stroke="#6f6f6f" stroke-width="0.9" stroke-dasharray="1.4,1.45" opacity="0.26"/>
<line x1="503.2" y1="451.6" x2="526.2" y2="463.1" stroke="#6f6f6f" stroke-width="0.9" stroke-dasharray="1.4,1.45" opacity="0.32"/>
<line x1="526.2" y1="463.1" x2="549.3" y2="471.2" stroke="#6f6f6f" stroke-width="0.9" stroke-dasharray="1.4,1.45" opacity="0.37"/>
<line x1="549.3" y1="471.2" x2="572.4" y2="472.0" stroke="#6f6f6f" stroke-width="0.9" stroke-dasharray="1.4,1.45" opacity="0.42"/>
<line x1="572.4" y1="472.0" x2="595.4" y2="472.1" stroke="#6f6f6f" stroke-width="0.9" stroke-dasharray="1.4,1.45" opacity="0.44"/>
<line x1="595.4" y1="472.1" x2="618.5" y2="470.2" stroke="#6f6f6f" stroke-width="0.9" stroke-dasharray="1.4,1.45" opacity="0.44"/>
<line x1="411.0" y1="436.7" x2="434.1" y2="437.3" stroke="#6f6f6f" stroke-width="0.9" stroke-dasharray="1.4,1.45" opacity="0.22"/>
<line x1="434.1" y1="437.3" x2="457.1" y2="438.5" stroke="#6f6f6f" stroke-width="0.9" stroke-dasharray="1.4,1.45" opacity="0.22"/>
<line x1="457.1" y1="438.5" x2="480.1" y2="440.6" stroke="#6f6f6f" stroke-width="0.9" stroke-dasharray="1.4,1.45" opacity="0.22"/>
<line x1="480.1" y1="440.6" x2="503.2" y2="450.9" stroke="#6f6f6f" stroke-width="0.9" stroke-dasharray="1.4,1.45" opacity="0.26"/>
<line x1="503.2" y1="450.9" x2="526.2" y2="462.2" stroke="#6f6f6f" stroke-width="0.9" stroke-dasharray="1.4,1.45" opacity="0.32"/>
<line x1="526.2" y1="462.2" x2="549.3" y2="470.5" stroke="#6f6f6f" stroke-width="0.9" stroke-dasharray="1.4,1.45" opacity="0.38"/>
<line x1="549.3" y1="470.5" x2="572.4" y2="471.8" stroke="#6f6f6f" stroke-width="0.9" stroke-dasharray="1.4,1.45" opacity="0.43"/>
<line x1="572.4" y1="471.8" x2="595.4" y2="472.5" stroke="#6f6f6f" stroke-width="0.9" stroke-dasharray="1.4,1.45" opacity="0.45"/>
<line x1="595.4" y1="472.5" x2="618.5" y2="471.0" stroke="#6f6f6f" stroke-width="0.9" stroke-dasharray="1.4,1.45" opacity="0.45"/>
<line x1="411.0" y1="437.7" x2="434.1" y2="439.3" stroke="#6f6f6f" stroke-width="0.9" stroke-dasharray="1.4,1.45" opacity="0.22"/>
<line x1="434.1" y1="439.3" x2="457.1" y2="441.4" stroke="#6f6f6f" stroke-width="0.9" stroke-dasharray="1.4,1.45" opacity="0.22"/>
<line x1="457.1" y1="441.4" x2="480.1" y2="444.4" stroke="#6f6f6f" stroke-width="0.9" stroke-dasharray="1.4,1.45" opacity="0.22"/>
<line x1="480.1" y1="444.4" x2="503.2" y2="455.7" stroke="#6f6f6f" stroke-width="0.9" stroke-dasharray="1.4,1.45" opacity="0.27"/>
<line x1="503.2" y1="455.7" x2="526.2" y2="467.9" stroke="#6f6f6f" stroke-width="0.9" stroke-dasharray="1.4,1.45" opacity="0.32"/>
<line x1="526.2" y1="467.9" x2="549.3" y2="476.3" stroke="#6f6f6f" stroke-width="0.9" stroke-dasharray="1.4,1.45" opacity="0.38"/>
<line x1="549.3" y1="476.3" x2="572.4" y2="476.5" stroke="#6f6f6f" stroke-width="0.9" stroke-dasharray="1.4,1.45" opacity="0.44"/>
<line x1="572.4" y1="476.5" x2="595.4" y2="475.3" stroke="#6f6f6f" stroke-width="0.9" stroke-dasharray="1.4,1.45" opacity="0.46"/>
<line x1="595.4" y1="475.3" x2="618.5" y2="471.8" stroke="#6f6f6f" stroke-width="0.9" stroke-dasharray="1.4,1.45" opacity="0.46"/>
<line x1="411.0" y1="438.6" x2="434.1" y2="440.2" stroke="#6f6f6f" stroke-width="0.9" stroke-dasharray="1.4,1.45" opacity="0.22"/>
<line x1="434.1" y1="440.2" x2="457.1" y2="442.3" stroke="#6f6f6f" stroke-width="0.9" stroke-dasharray="1.4,1.45" opacity="0.22"/>
<line x1="457.1" y1="442.3" x2="480.1" y2="445.2" stroke="#6f6f6f" stroke-width="0.9" stroke-dasharray="1.4,1.45" opacity="0.22"/>
<line x1="480.1" y1="445.2" x2="503.2" y2="456.7" stroke="#6f6f6f" stroke-width="0.9" stroke-dasharray="1.4,1.45" opacity="0.27"/>
<line x1="503.2" y1="456.7" x2="526.2" y2="469.0" stroke="#6f6f6f" stroke-width="0.9" stroke-dasharray="1.4,1.45" opacity="0.33"/>
<line x1="526.2" y1="469.0" x2="549.3" y2="477.4" stroke="#6f6f6f" stroke-width="0.9" stroke-dasharray="1.4,1.45" opacity="0.39"/>
<line x1="549.3" y1="477.4" x2="572.4" y2="477.7" stroke="#6f6f6f" stroke-width="0.9" stroke-dasharray="1.4,1.45" opacity="0.45"/>
<line x1="572.4" y1="477.7" x2="595.4" y2="476.4" stroke="#6f6f6f" stroke-width="0.9" stroke-dasharray="1.4,1.45" opacity="0.47"/>
<line x1="595.4" y1="476.4" x2="618.5" y2="472.6" stroke="#6f6f6f" stroke-width="0.9" stroke-dasharray="1.4,1.45" opacity="0.47"/>
<line x1="411.0" y1="439.6" x2="434.1" y2="442.0" stroke="#6f6f6f" stroke-width="0.9" stroke-dasharray="1.4,1.45" opacity="0.22"/>
<line x1="434.1" y1="442.0" x2="457.1" y2="445.1" stroke="#6f6f6f" stroke-width="0.9" stroke-dasharray="1.4,1.45" opacity="0.22"/>
<line x1="457.1" y1="445.1" x2="480.1" y2="448.8" stroke="#6f6f6f" stroke-width="0.9" stroke-dasharray="1.4,1.45" opacity="0.22"/>
<line x1="480.1" y1="448.8" x2="503.2" y2="461.2" stroke="#6f6f6f" stroke-width="0.9" stroke-dasharray="1.4,1.45" opacity="0.27"/>
<line x1="503.2" y1="461.2" x2="526.2" y2="474.3" stroke="#6f6f6f" stroke-width="0.9" stroke-dasharray="1.4,1.45" opacity="0.33"/>
<line x1="526.2" y1="474.3" x2="549.3" y2="482.8" stroke="#6f6f6f" stroke-width="0.9" stroke-dasharray="1.4,1.45" opacity="0.40"/>
<line x1="549.3" y1="482.8" x2="572.4" y2="482.1" stroke="#6f6f6f" stroke-width="0.9" stroke-dasharray="1.4,1.45" opacity="0.46"/>
<line x1="572.4" y1="482.1" x2="595.4" y2="479.1" stroke="#6f6f6f" stroke-width="0.9" stroke-dasharray="1.4,1.45" opacity="0.48"/>
<line x1="595.4" y1="479.1" x2="618.5" y2="473.4" stroke="#6f6f6f" stroke-width="0.9" stroke-dasharray="1.4,1.45" opacity="0.48"/>
<line x1="411.0" y1="440.5" x2="434.1" y2="442.3" stroke="#6f6f6f" stroke-width="0.9" stroke-dasharray="1.4,1.45" opacity="0.22"/>
<line x1="434.1" y1="442.3" x2="457.1" y2="444.6" stroke="#6f6f6f" stroke-width="0.9" stroke-dasharray="1.4,1.45" opacity="0.22"/>
<line x1="457.1" y1="444.6" x2="480.1" y2="447.7" stroke="#6f6f6f" stroke-width="0.9" stroke-dasharray="1.4,1.45" opacity="0.22"/>
<line x1="480.1" y1="447.7" x2="503.2" y2="459.6" stroke="#6f6f6f" stroke-width="0.9" stroke-dasharray="1.4,1.45" opacity="0.27"/>
<line x1="503.2" y1="459.6" x2="526.2" y2="472.4" stroke="#6f6f6f" stroke-width="0.9" stroke-dasharray="1.4,1.45" opacity="0.34"/>
<line x1="526.2" y1="472.4" x2="549.3" y2="481.0" stroke="#6f6f6f" stroke-width="0.9" stroke-dasharray="1.4,1.45" opacity="0.40"/>
<line x1="549.3" y1="481.0" x2="572.4" y2="481.0" stroke="#6f6f6f" stroke-width="0.9" stroke-dasharray="1.4,1.45" opacity="0.47"/>
<line x1="572.4" y1="481.0" x2="595.4" y2="479.0" stroke="#6f6f6f" stroke-width="0.9" stroke-dasharray="1.4,1.45" opacity="0.49"/>
<line x1="595.4" y1="479.0" x2="618.5" y2="474.1" stroke="#6f6f6f" stroke-width="0.9" stroke-dasharray="1.4,1.45" opacity="0.49"/>
<line x1="411.0" y1="441.5" x2="434.1" y2="443.5" stroke="#6f6f6f" stroke-width="0.9" stroke-dasharray="1.4,1.45" opacity="0.22"/>
<line x1="434.1" y1="443.5" x2="457.1" y2="446.2" stroke="#6f6f6f" stroke-width="0.9" stroke-dasharray="1.4,1.45" opacity="0.22"/>
<line x1="457.1" y1="446.2" x2="480.1" y2="449.5" stroke="#6f6f6f" stroke-width="0.9" stroke-dasharray="1.4,1.45" opacity="0.22"/>
<line x1="480.1" y1="449.5" x2="503.2" y2="461.8" stroke="#6f6f6f" stroke-width="0.9" stroke-dasharray="1.4,1.45" opacity="0.27"/>
<line x1="503.2" y1="461.8" x2="526.2" y2="474.9" stroke="#6f6f6f" stroke-width="0.9" stroke-dasharray="1.4,1.45" opacity="0.34"/>
<line x1="526.2" y1="474.9" x2="549.3" y2="483.6" stroke="#6f6f6f" stroke-width="0.9" stroke-dasharray="1.4,1.45" opacity="0.41"/>
<line x1="549.3" y1="483.6" x2="572.4" y2="483.2" stroke="#6f6f6f" stroke-width="0.9" stroke-dasharray="1.4,1.45" opacity="0.48"/>
<line x1="572.4" y1="483.2" x2="595.4" y2="480.6" stroke="#6f6f6f" stroke-width="0.9" stroke-dasharray="1.4,1.45" opacity="0.50"/>
<line x1="595.4" y1="480.6" x2="618.5" y2="474.9" stroke="#6f6f6f" stroke-width="0.9" stroke-dasharray="1.4,1.45" opacity="0.50"/>
<line x1="411.0" y1="442.5" x2="434.1" y2="444.2" stroke="#6f6f6f" stroke-width="0.9" stroke-dasharray="1.4,1.45" opacity="0.22"/>
<line x1="434.1" y1="444.2" x2="457.1" y2="446.5" stroke="#6f6f6f" stroke-width="0.9" stroke-dasharray="1.4,1.45" opacity="0.22"/>
<line x1="457.1" y1="446.5" x2="480.1" y2="449.7" stroke="#6f6f6f" stroke-width="0.9" stroke-dasharray="1.4,1.45" opacity="0.22"/>
<line x1="480.1" y1="449.7" x2="503.2" y2="461.8" stroke="#6f6f6f" stroke-width="0.9" stroke-dasharray="1.4,1.45" opacity="0.28"/>
<line x1="503.2" y1="461.8" x2="526.2" y2="474.8" stroke="#6f6f6f" stroke-width="0.9" stroke-dasharray="1.4,1.45" opacity="0.35"/>
<line x1="526.2" y1="474.8" x2="549.3" y2="483.6" stroke="#6f6f6f" stroke-width="0.9" stroke-dasharray="1.4,1.45" opacity="0.42"/>
<line x1="549.3" y1="483.6" x2="572.4" y2="483.5" stroke="#6f6f6f" stroke-width="0.9" stroke-dasharray="1.4,1.45" opacity="0.49"/>
<line x1="572.4" y1="483.5" x2="595.4" y2="481.2" stroke="#6f6f6f" stroke-width="0.9" stroke-dasharray="1.4,1.45" opacity="0.51"/>
<line x1="595.4" y1="481.2" x2="618.5" y2="475.6" stroke="#6f6f6f" stroke-width="0.9" stroke-dasharray="1.4,1.45" opacity="0.51"/>
<line x1="411.0" y1="443.6" x2="434.1" y2="445.6" stroke="#6f6f6f" stroke-width="0.9" stroke-dasharray="1.4,1.45" opacity="0.50"/>
<line x1="434.1" y1="445.6" x2="457.1" y2="448.3" stroke="#6f6f6f" stroke-width="0.9" stroke-dasharray="1.4,1.45" opacity="0.50"/>
<line x1="457.1" y1="448.3" x2="480.1" y2="451.7" stroke="#6f6f6f" stroke-width="0.9" stroke-dasharray="1.4,1.45" opacity="0.50"/>
<line x1="480.1" y1="451.7" x2="503.2" y2="464.3" stroke="#6f6f6f" stroke-width="0.9" stroke-dasharray="1.4,1.45" opacity="0.50"/>
<line x1="503.2" y1="464.3" x2="526.2" y2="477.7" stroke="#6f6f6f" stroke-width="0.9" stroke-dasharray="1.4,1.45" opacity="0.51"/>
<line x1="526.2" y1="477.7" x2="549.3" y2="486.6" stroke="#6f6f6f" stroke-width="0.9" stroke-dasharray="1.4,1.45" opacity="0.51"/>
<line x1="549.3" y1="486.6" x2="572.4" y2="486.0" stroke="#6f6f6f" stroke-width="0.9" stroke-dasharray="1.4,1.45" opacity="0.52"/>
<line x1="572.4" y1="486.0" x2="595.4" y2="482.9" stroke="#6f6f6f" stroke-width="0.9" stroke-dasharray="1.4,1.45" opacity="0.52"/>
<line x1="595.4" y1="482.9" x2="618.5" y2="476.3" stroke="#6f6f6f" stroke-width="0.9" stroke-dasharray="1.4,1.45" opacity="0.52"/>
<line x1="411.0" y1="444.6" x2="434.1" y2="446.2" stroke="#6f6f6f" stroke-width="0.9" stroke-dasharray="1.4,1.45" opacity="0.50"/>
<line x1="434.1" y1="446.2" x2="457.1" y2="448.4" stroke="#6f6f6f" stroke-width="0.9" stroke-dasharray="1.4,1.45" opacity="0.50"/>
<line x1="457.1" y1="448.4" x2="480.1" y2="451.5" stroke="#6f6f6f" stroke-width="0.9" stroke-dasharray="1.4,1.45" opacity="0.50"/>
<line x1="480.1" y1="451.5" x2="503.2" y2="463.8" stroke="#6f6f6f" stroke-width="0.9" stroke-dasharray="1.4,1.45" opacity="0.51"/>
<line x1="503.2" y1="463.8" x2="526.2" y2="477.0" stroke="#6f6f6f" stroke-width="0.9" stroke-dasharray="1.4,1.45" opacity="0.51"/>
<line x1="526.2" y1="477.0" x2="549.3" y2="485.9" stroke="#6f6f6f" stroke-width="0.9" stroke-dasharray="1.4,1.45" opacity="0.52"/>
<line x1="549.3" y1="485.9" x2="572.4" y2="485.8" stroke="#6f6f6f" stroke-width="0.9" stroke-dasharray="1.4,1.45" opacity="0.53"/>
<line x1="572.4" y1="485.8" x2="595.4" y2="483.3" stroke="#6f6f6f" stroke-width="0.9" stroke-dasharray="1.4,1.45" opacity="0.53"/>
<line x1="595.4" y1="483.3" x2="618.5" y2="477.1" stroke="#6f6f6f" stroke-width="0.9" stroke-dasharray="1.4,1.45" opacity="0.53"/>
<line x1="411.0" y1="445.7" x2="434.1" y2="446.8" stroke="#6f6f6f" stroke-width="0.9" stroke-dasharray="1.4,1.45" opacity="0.50"/>
<line x1="434.1" y1="446.8" x2="457.1" y2="448.6" stroke="#6f6f6f" stroke-width="0.9" stroke-dasharray="1.4,1.45" opacity="0.50"/>
<line x1="457.1" y1="448.6" x2="480.1" y2="451.4" stroke="#6f6f6f" stroke-width="0.9" stroke-dasharray="1.4,1.45" opacity="0.50"/>
<line x1="480.1" y1="451.4" x2="503.2" y2="463.4" stroke="#6f6f6f" stroke-width="0.9" stroke-dasharray="1.4,1.45" opacity="0.51"/>
<line x1="503.2" y1="463.4" x2="526.2" y2="476.5" stroke="#6f6f6f" stroke-width="0.9" stroke-dasharray="1.4,1.45" opacity="0.52"/>
<line x1="526.2" y1="476.5" x2="549.3" y2="485.5" stroke="#6f6f6f" stroke-width="0.9" stroke-dasharray="1.4,1.45" opacity="0.53"/>
<line x1="549.3" y1="485.5" x2="572.4" y2="485.7" stroke="#6f6f6f" stroke-width="0.9" stroke-dasharray="1.4,1.45" opacity="0.53"/>
<line x1="572.4" y1="485.7" x2="595.4" y2="483.7" stroke="#6f6f6f" stroke-width="0.9" stroke-dasharray="1.4,1.45" opacity="0.54"/>
<line x1="595.4" y1="483.7" x2="618.5" y2="477.8" stroke="#6f6f6f" stroke-width="0.9" stroke-dasharray="1.4,1.45" opacity="0.54"/>
<line x1="411.0" y1="446.7" x2="434.1" y2="449.5" stroke="#6f6f6f" stroke-width="0.9" stroke-dasharray="1.4,1.45" opacity="0.50"/>
<line x1="434.1" y1="449.5" x2="457.1" y2="452.9" stroke="#6f6f6f" stroke-width="0.9" stroke-dasharray="1.4,1.45" opacity="0.50"/>
<line x1="457.1" y1="452.9" x2="480.1" y2="457.0" stroke="#6f6f6f" stroke-width="0.9" stroke-dasharray="1.4,1.45" opacity="0.50"/>
<line x1="480.1" y1="457.0" x2="503.2" y2="470.7" stroke="#6f6f6f" stroke-width="0.9" stroke-dasharray="1.4,1.45" opacity="0.51"/>
<line x1="503.2" y1="470.7" x2="526.2" y2="485.0" stroke="#6f6f6f" stroke-width="0.9" stroke-dasharray="1.4,1.45" opacity="0.52"/>
<line x1="526.2" y1="485.0" x2="549.3" y2="494.0" stroke="#6f6f6f" stroke-width="0.9" stroke-dasharray="1.4,1.45" opacity="0.53"/>
<line x1="549.3" y1="494.0" x2="572.4" y2="492.5" stroke="#6f6f6f" stroke-width="0.9" stroke-dasharray="1.4,1.45" opacity="0.54"/>
<line x1="572.4" y1="492.5" x2="595.4" y2="487.5" stroke="#6f6f6f" stroke-width="0.9" stroke-dasharray="1.4,1.45" opacity="0.55"/>
<line x1="595.4" y1="487.5" x2="618.5" y2="478.5" stroke="#6f6f6f" stroke-width="0.9" stroke-dasharray="1.4,1.45" opacity="0.55"/>
<line x1="411.0" y1="447.8" x2="434.1" y2="450.5" stroke="#6f6f6f" stroke-width="0.9" stroke-dasharray="1.4,1.45" opacity="0.50"/>
<line x1="434.1" y1="450.5" x2="457.1" y2="453.9" stroke="#6f6f6f" stroke-width="0.9" stroke-dasharray="1.4,1.45" opacity="0.50"/>
<line x1="457.1" y1="453.9" x2="480.1" y2="458.0" stroke="#6f6f6f" stroke-width="0.9" stroke-dasharray="1.4,1.45" opacity="0.50"/>
<line x1="480.1" y1="458.0" x2="503.2" y2="471.9" stroke="#6f6f6f" stroke-width="0.9" stroke-dasharray="1.4,1.45" opacity="0.51"/>
<line x1="503.2" y1="471.9" x2="526.2" y2="486.3" stroke="#6f6f6f" stroke-width="0.9" stroke-dasharray="1.4,1.45" opacity="0.53"/>
<line x1="526.2" y1="486.3" x2="549.3" y2="495.4" stroke="#6f6f6f" stroke-width="0.9" stroke-dasharray="1.4,1.45" opacity="0.54"/>
<line x1="549.3" y1="495.4" x2="572.4" y2="493.8" stroke="#6f6f6f" stroke-width="0.9" stroke-dasharray="1.4,1.45" opacity="0.55"/>
<line x1="572.4" y1="493.8" x2="595.4" y2="488.6" stroke="#6f6f6f" stroke-width="0.9" stroke-dasharray="1.4,1.45" opacity="0.56"/>
<line x1="595.4" y1="488.6" x2="618.5" y2="479.2" stroke="#6f6f6f" stroke-width="0.9" stroke-dasharray="1.4,1.45" opacity="0.56"/>
<line x1="411.0" y1="448.9" x2="434.1" y2="451.3" stroke="#6f6f6f" stroke-width="0.9" stroke-dasharray="1.4,1.45" opacity="0.50"/>
<line x1="434.1" y1="451.3" x2="457.1" y2="454.3" stroke="#6f6f6f" stroke-width="0.9" stroke-dasharray="1.4,1.45" opacity="0.50"/>
<line x1="457.1" y1="454.3" x2="480.1" y2="458.1" stroke="#6f6f6f" stroke-width="0.9" stroke-dasharray="1.4,1.45" opacity="0.50"/>
<line x1="480.1" y1="458.1" x2="503.2" y2="471.7" stroke="#6f6f6f" stroke-width="0.9" stroke-dasharray="1.4,1.45" opacity="0.51"/>
<line x1="503.2" y1="471.7" x2="526.2" y2="486.1" stroke="#6f6f6f" stroke-width="0.9" stroke-dasharray="1.4,1.45" opacity="0.53"/>
<line x1="526.2" y1="486.1" x2="549.3" y2="495.2" stroke="#6f6f6f" stroke-width="0.9" stroke-dasharray="1.4,1.45" opacity="0.55"/>
<line x1="549.3" y1="495.2" x2="572.4" y2="493.9" stroke="#6f6f6f" stroke-width="0.9" stroke-dasharray="1.4,1.45" opacity="0.56"/>
<line x1="572.4" y1="493.9" x2="595.4" y2="489.0" stroke="#6f6f6f" stroke-width="0.9" stroke-dasharray="1.4,1.45" opacity="0.57"/>
<line x1="595.4" y1="489.0" x2="618.5" y2="479.9" stroke="#6f6f6f" stroke-width="0.9" stroke-dasharray="1.4,1.45" opacity="0.57"/>
<line x1="411.0" y1="450.1" x2="434.1" y2="452.0" stroke="#6f6f6f" stroke-width="0.9" stroke-dasharray="1.4,1.45" opacity="0.22"/>
<line x1="434.1" y1="452.0" x2="457.1" y2="454.8" stroke="#6f6f6f" stroke-width="0.9" stroke-dasharray="1.4,1.45" opacity="0.22"/>
<line x1="457.1" y1="454.8" x2="480.1" y2="458.3" stroke="#6f6f6f" stroke-width="0.9" stroke-dasharray="1.4,1.45" opacity="0.22"/>
<line x1="480.1" y1="458.3" x2="503.2" y2="471.8" stroke="#6f6f6f" stroke-width="0.9" stroke-dasharray="1.4,1.45" opacity="0.29"/>
<line x1="503.2" y1="471.8" x2="526.2" y2="486.0" stroke="#6f6f6f" stroke-width="0.9" stroke-dasharray="1.4,1.45" opacity="0.38"/>
<line x1="526.2" y1="486.0" x2="549.3" y2="495.2" stroke="#6f6f6f" stroke-width="0.9" stroke-dasharray="1.4,1.45" opacity="0.47"/>
<line x1="549.3" y1="495.2" x2="572.4" y2="494.2" stroke="#6f6f6f" stroke-width="0.9" stroke-dasharray="1.4,1.45" opacity="0.56"/>
<line x1="572.4" y1="494.2" x2="595.4" y2="489.6" stroke="#6f6f6f" stroke-width="0.9" stroke-dasharray="1.4,1.45" opacity="0.58"/>
<line x1="595.4" y1="489.6" x2="618.5" y2="480.5" stroke="#6f6f6f" stroke-width="0.9" stroke-dasharray="1.4,1.45" opacity="0.58"/>
<line x1="411.0" y1="451.2" x2="434.1" y2="452.2" stroke="#6f6f6f" stroke-width="0.9" stroke-dasharray="1.4,1.45" opacity="0.22"/>
<line x1="434.1" y1="452.2" x2="457.1" y2="454.1" stroke="#6f6f6f" stroke-width="0.9" stroke-dasharray="1.4,1.45" opacity="0.22"/>
<line x1="457.1" y1="454.1" x2="480.1" y2="456.9" stroke="#6f6f6f" stroke-width="0.9" stroke-dasharray="1.4,1.45" opacity="0.22"/>
<line x1="480.1" y1="456.9" x2="503.2" y2="469.6" stroke="#6f6f6f" stroke-width="0.9" stroke-dasharray="1.4,1.45" opacity="0.29"/>
<line x1="503.2" y1="469.6" x2="526.2" y2="483.4" stroke="#6f6f6f" stroke-width="0.9" stroke-dasharray="1.4,1.45" opacity="0.38"/>
<line x1="526.2" y1="483.4" x2="549.3" y2="492.6" stroke="#6f6f6f" stroke-width="0.9" stroke-dasharray="1.4,1.45" opacity="0.47"/>
<line x1="549.3" y1="492.6" x2="572.4" y2="492.4" stroke="#6f6f6f" stroke-width="0.9" stroke-dasharray="1.4,1.45" opacity="0.57"/>
<line x1="572.4" y1="492.4" x2="595.4" y2="489.2" stroke="#6f6f6f" stroke-width="0.9" stroke-dasharray="1.4,1.45" opacity="0.59"/>
<line x1="595.4" y1="489.2" x2="618.5" y2="481.2" stroke="#6f6f6f" stroke-width="0.9" stroke-dasharray="1.4,1.45" opacity="0.59"/>
<line x1="411.0" y1="452.3" x2="434.1" y2="453.2" stroke="#6f6f6f" stroke-width="0.9" stroke-dasharray="1.4,1.45" opacity="0.22"/>
<line x1="434.1" y1="453.2" x2="457.1" y2="454.8" stroke="#6f6f6f" stroke-width="0.9" stroke-dasharray="1.4,1.45" opacity="0.22"/>
<line x1="457.1" y1="454.8" x2="480.1" y2="457.5" stroke="#6f6f6f" stroke-width="0.9" stroke-dasharray="1.4,1.45" opacity="0.22"/>
<line x1="480.1" y1="457.5" x2="503.2" y2="470.1" stroke="#6f6f6f" stroke-width="0.9" stroke-dasharray="1.4,1.45" opacity="0.29"/>
<line x1="503.2" y1="470.1" x2="526.2" y2="483.8" stroke="#6f6f6f" stroke-width="0.9" stroke-dasharray="1.4,1.45" opacity="0.39"/>
<line x1="526.2" y1="483.8" x2="549.3" y2="493.1" stroke="#6f6f6f" stroke-width="0.9" stroke-dasharray="1.4,1.45" opacity="0.48"/>
<line x1="549.3" y1="493.1" x2="572.4" y2="493.0" stroke="#6f6f6f" stroke-width="0.9" stroke-dasharray="1.4,1.45" opacity="0.58"/>
<line x1="572.4" y1="493.0" x2="595.4" y2="489.9" stroke="#6f6f6f" stroke-width="0.9" stroke-dasharray="1.4,1.45" opacity="0.60"/>
<line x1="595.4" y1="489.9" x2="618.5" y2="481.9" stroke="#6f6f6f" stroke-width="0.9" stroke-dasharray="1.4,1.45" opacity="0.60"/>
<line x1="411.0" y1="453.5" x2="434.1" y2="454.4" stroke="#6f6f6f" stroke-width="0.9" stroke-dasharray="1.4,1.45" opacity="0.22"/>
<line x1="434.1" y1="454.4" x2="457.1" y2="456.2" stroke="#6f6f6f" stroke-width="0.9" stroke-dasharray="1.4,1.45" opacity="0.22"/>
<line x1="457.1" y1="456.2" x2="480.1" y2="458.9" stroke="#6f6f6f" stroke-width="0.9" stroke-dasharray="1.4,1.45" opacity="0.22"/>
<line x1="480.1" y1="458.9" x2="503.2" y2="471.8" stroke="#6f6f6f" stroke-width="0.9" stroke-dasharray="1.4,1.45" opacity="0.30"/>
<line x1="503.2" y1="471.8" x2="526.2" y2="485.7" stroke="#6f6f6f" stroke-width="0.9" stroke-dasharray="1.4,1.45" opacity="0.39"/>
<line x1="526.2" y1="485.7" x2="549.3" y2="495.1" stroke="#6f6f6f" stroke-width="0.9" stroke-dasharray="1.4,1.45" opacity="0.49"/>
<line x1="549.3" y1="495.1" x2="572.4" y2="494.7" stroke="#6f6f6f" stroke-width="0.9" stroke-dasharray="1.4,1.45" opacity="0.58"/>
<line x1="572.4" y1="494.7" x2="595.4" y2="491.1" stroke="#6f6f6f" stroke-width="0.9" stroke-dasharray="1.4,1.45" opacity="0.61"/>
<line x1="595.4" y1="491.1" x2="618.5" y2="482.5" stroke="#6f6f6f" stroke-width="0.9" stroke-dasharray="1.4,1.45" opacity="0.61"/>
<line x1="411.0" y1="454.7" x2="434.1" y2="455.0" stroke="#6f6f6f" stroke-width="0.9" stroke-dasharray="1.4,1.45" opacity="0.22"/>
<line x1="434.1" y1="455.0" x2="457.1" y2="456.3" stroke="#6f6f6f" stroke-width="0.9" stroke-dasharray="1.4,1.45" opacity="0.22"/>
<line x1="457.1" y1="456.3" x2="480.1" y2="458.6" stroke="#6f6f6f" stroke-width="0.9" stroke-dasharray="1.4,1.45" opacity="0.22"/>
<line x1="480.1" y1="458.6" x2="503.2" y2="471.1" stroke="#6f6f6f" stroke-width="0.9" stroke-dasharray="1.4,1.45" opacity="0.30"/>
<line x1="503.2" y1="471.1" x2="526.2" y2="484.8" stroke="#6f6f6f" stroke-width="0.9" stroke-dasharray="1.4,1.45" opacity="0.40"/>
<line x1="526.2" y1="484.8" x2="549.3" y2="494.2" stroke="#6f6f6f" stroke-width="0.9" stroke-dasharray="1.4,1.45" opacity="0.50"/>
<line x1="549.3" y1="494.2" x2="572.4" y2="494.3" stroke="#6f6f6f" stroke-width="0.9" stroke-dasharray="1.4,1.45" opacity="0.59"/>
<line x1="572.4" y1="494.3" x2="595.4" y2="491.3" stroke="#6f6f6f" stroke-width="0.9" stroke-dasharray="1.4,1.45" opacity="0.62"/>
<line x1="595.4" y1="491.3" x2="618.5" y2="483.2" stroke="#6f6f6f" stroke-width="0.9" stroke-dasharray="1.4,1.45" opacity="0.62"/>
<line x1="411.0" y1="455.9" x2="434.1" y2="457.8" stroke="#6f6f6f" stroke-width="0.9" stroke-dasharray="1.4,1.45" opacity="0.22"/>
<line x1="434.1" y1="457.8" x2="457.1" y2="460.5" stroke="#6f6f6f" stroke-width="0.9" stroke-dasharray="1.4,1.45" opacity="0.22"/>
<line x1="457.1" y1="460.5" x2="480.1" y2="464.1" stroke="#6f6f6f" stroke-width="0.9" stroke-dasharray="1.4,1.45" opacity="0.22"/>
<line x1="480.1" y1="464.1" x2="503.2" y2="478.2" stroke="#6f6f6f" stroke-width="0.9" stroke-dasharray="1.4,1.45" opacity="0.30"/>
<line x1="503.2" y1="478.2" x2="526.2" y2="493.2" stroke="#6f6f6f" stroke-width="0.9" stroke-dasharray="1.4,1.45" opacity="0.40"/>
<line x1="526.2" y1="493.2" x2="549.3" y2="502.5" stroke="#6f6f6f" stroke-width="0.9" stroke-dasharray="1.4,1.45" opacity="0.50"/>
<line x1="549.3" y1="502.5" x2="572.4" y2="500.9" stroke="#6f6f6f" stroke-width="0.9" stroke-dasharray="1.4,1.45" opacity="0.60"/>
<line x1="572.4" y1="500.9" x2="595.4" y2="495.0" stroke="#6f6f6f" stroke-width="0.9" stroke-dasharray="1.4,1.45" opacity="0.63"/>
<line x1="595.4" y1="495.0" x2="618.5" y2="483.8" stroke="#6f6f6f" stroke-width="0.9" stroke-dasharray="1.4,1.45" opacity="0.63"/>
<line x1="411.0" y1="457.1" x2="434.1" y2="458.1" stroke="#6f6f6f" stroke-width="0.9" stroke-dasharray="1.4,1.45" opacity="0.22"/>
<line x1="434.1" y1="458.1" x2="457.1" y2="460.0" stroke="#6f6f6f" stroke-width="0.9" stroke-dasharray="1.4,1.45" opacity="0.22"/>
<line x1="457.1" y1="460.0" x2="480.1" y2="462.9" stroke="#6f6f6f" stroke-width="0.9" stroke-dasharray="1.4,1.45" opacity="0.22"/>
<line x1="480.1" y1="462.9" x2="503.2" y2="476.3" stroke="#6f6f6f" stroke-width="0.9" stroke-dasharray="1.4,1.45" opacity="0.30"/>
<line x1="503.2" y1="476.3" x2="526.2" y2="490.8" stroke="#6f6f6f" stroke-width="0.9" stroke-dasharray="1.4,1.45" opacity="0.41"/>
<line x1="526.2" y1="490.8" x2="549.3" y2="500.2" stroke="#6f6f6f" stroke-width="0.9" stroke-dasharray="1.4,1.45" opacity="0.51"/>
<line x1="549.3" y1="500.2" x2="572.4" y2="499.3" stroke="#6f6f6f" stroke-width="0.9" stroke-dasharray="1.4,1.45" opacity="0.61"/>
<line x1="572.4" y1="499.3" x2="595.4" y2="494.6" stroke="#6f6f6f" stroke-width="0.9" stroke-dasharray="1.4,1.45" opacity="0.64"/>
<line x1="595.4" y1="494.6" x2="618.5" y2="484.5" stroke="#6f6f6f" stroke-width="0.9" stroke-dasharray="1.4,1.45" opacity="0.64"/>
<line x1="411.0" y1="458.3" x2="434.1" y2="460.3" stroke="#6f6f6f" stroke-width="0.9" stroke-dasharray="1.4,1.45" opacity="0.22"/>
<line x1="434.1" y1="460.3" x2="457.1" y2="463.1" stroke="#6f6f6f" stroke-width="0.9" stroke-dasharray="1.4,1.45" opacity="0.22"/>
<line x1="457.1" y1="463.1" x2="480.1" y2="466.9" stroke="#6f6f6f" stroke-width="0.9" stroke-dasharray="1.4,1.45" opacity="0.22"/>
<line x1="480.1" y1="466.9" x2="503.2" y2="481.3" stroke="#6f6f6f" stroke-width="0.9" stroke-dasharray="1.4,1.45" opacity="0.30"/>
<line x1="503.2" y1="481.3" x2="526.2" y2="496.6" stroke="#6f6f6f" stroke-width="0.9" stroke-dasharray="1.4,1.45" opacity="0.41"/>
<line x1="526.2" y1="496.6" x2="549.3" y2="506.0" stroke="#6f6f6f" stroke-width="0.9" stroke-dasharray="1.4,1.45" opacity="0.52"/>
<line x1="549.3" y1="506.0" x2="572.4" y2="504.0" stroke="#6f6f6f" stroke-width="0.9" stroke-dasharray="1.4,1.45" opacity="0.62"/>
<line x1="572.4" y1="504.0" x2="595.4" y2="497.3" stroke="#6f6f6f" stroke-width="0.9" stroke-dasharray="1.4,1.45" opacity="0.65"/>
<line x1="595.4" y1="497.3" x2="618.5" y2="485.1" stroke="#6f6f6f" stroke-width="0.9" stroke-dasharray="1.4,1.45" opacity="0.65"/>
<line x1="411.0" y1="459.5" x2="434.1" y2="460.4" stroke="#6f6f6f" stroke-width="0.9" stroke-dasharray="1.4,1.45" opacity="0.22"/>
<line x1="434.1" y1="460.4" x2="457.1" y2="462.2" stroke="#6f6f6f" stroke-width="0.9" stroke-dasharray="1.4,1.45" opacity="0.22"/>
<line x1="457.1" y1="462.2" x2="480.1" y2="465.0" stroke="#6f6f6f" stroke-width="0.9" stroke-dasharray="1.4,1.45" opacity="0.22"/>
<line x1="480.1" y1="465.0" x2="503.2" y2="478.6" stroke="#6f6f6f" stroke-width="0.9" stroke-dasharray="1.4,1.45" opacity="0.31"/>
<line x1="503.2" y1="478.6" x2="526.2" y2="493.2" stroke="#6f6f6f" stroke-width="0.9" stroke-dasharray="1.4,1.45" opacity="0.42"/>
<line x1="526.2" y1="493.2" x2="549.3" y2="502.7" stroke="#6f6f6f" stroke-width="0.9" stroke-dasharray="1.4,1.45" opacity="0.52"/>
<line x1="549.3" y1="502.7" x2="572.4" y2="501.7" stroke="#6f6f6f" stroke-width="0.9" stroke-dasharray="1.4,1.45" opacity="0.63"/>
<line x1="572.4" y1="501.7" x2="595.4" y2="496.6" stroke="#6f6f6f" stroke-width="0.9" stroke-dasharray="1.4,1.45" opacity="0.66"/>
<line x1="595.4" y1="496.6" x2="618.5" y2="485.8" stroke="#6f6f6f" stroke-width="0.9" stroke-dasharray="1.4,1.45" opacity="0.66"/>
<line x1="411.0" y1="460.7" x2="434.1" y2="462.9" stroke="#6f6f6f" stroke-width="0.9" stroke-dasharray="1.4,1.45" opacity="0.22"/>
<line x1="434.1" y1="462.9" x2="457.1" y2="465.0" stroke="#6f6f6f" stroke-width="0.9" stroke-dasharray="1.4,1.45" opacity="0.22"/>
<line x1="457.1" y1="465.0" x2="480.1" y2="468.0" stroke="#6f6f6f" stroke-width="0.9" stroke-dasharray="1.4,1.45" opacity="0.22"/>
<line x1="480.1" y1="468.0" x2="503.2" y2="482.0" stroke="#6f6f6f" stroke-width="0.9" stroke-dasharray="1.4,1.45" opacity="0.31"/>
<line x1="503.2" y1="482.0" x2="526.2" y2="497.0" stroke="#6f6f6f" stroke-width="0.9" stroke-dasharray="1.4,1.45" opacity="0.42"/>
<line x1="526.2" y1="497.0" x2="549.3" y2="506.5" stroke="#6f6f6f" stroke-width="0.9" stroke-dasharray="1.4,1.45" opacity="0.53"/>
<line x1="549.3" y1="506.5" x2="572.4" y2="505.0" stroke="#6f6f6f" stroke-width="0.9" stroke-dasharray="1.4,1.45" opacity="0.64"/>
<line x1="572.4" y1="505.0" x2="595.4" y2="499.0" stroke="#6f6f6f" stroke-width="0.9" stroke-dasharray="1.4,1.45" opacity="0.67"/>
<line x1="595.4" y1="499.0" x2="618.5" y2="486.4" stroke="#6f6f6f" stroke-width="0.9" stroke-dasharray="1.4,1.45" opacity="0.67"/>
<line x1="411.0" y1="462.0" x2="434.1" y2="463.0" stroke="#6f6f6f" stroke-width="0.9" stroke-dasharray="1.4,1.45" opacity="0.22"/>
<line x1="434.1" y1="463.0" x2="457.1" y2="465.0" stroke="#6f6f6f" stroke-width="0.9" stroke-dasharray="1.4,1.45" opacity="0.22"/>
<line x1="457.1" y1="465.0" x2="480.1" y2="468.0" stroke="#6f6f6f" stroke-width="0.9" stroke-dasharray="1.4,1.45" opacity="0.22"/>
<line x1="480.1" y1="468.0" x2="503.2" y2="482.0" stroke="#6f6f6f" stroke-width="0.9" stroke-dasharray="1.4,1.45" opacity="0.31"/>
<line x1="503.2" y1="482.0" x2="526.2" y2="497.0" stroke="#6f6f6f" stroke-width="0.9" stroke-dasharray="1.4,1.45" opacity="0.42"/>
<line x1="526.2" y1="497.0" x2="549.3" y2="506.5" stroke="#6f6f6f" stroke-width="0.9" stroke-dasharray="1.4,1.45" opacity="0.54"/>
<line x1="549.3" y1="506.5" x2="572.4" y2="505.0" stroke="#6f6f6f" stroke-width="0.9" stroke-dasharray="1.4,1.45" opacity="0.65"/>
<line x1="572.4" y1="505.0" x2="595.4" y2="499.0" stroke="#6f6f6f" stroke-width="0.9" stroke-dasharray="1.4,1.45" opacity="0.68"/>
<line x1="595.4" y1="499.0" x2="618.5" y2="487.0" stroke="#6f6f6f" stroke-width="0.9" stroke-dasharray="1.4,1.45" opacity="0.68"/>
<defs><linearGradient id="dz" x1="0" y1="0" x2="1" y2="0"><stop offset="0" stop-color="#b01c26"/><stop offset="1" stop-color="#8e141c"/></linearGradient></defs>
<polyline points="411.0,358.3 434.1,357.2 457.1,355.4 480.1,353.7 503.2,364.6 526.2,377.7 549.3,397.1 572.4,424.2 595.4,424.2 618.5,416.4" fill="none" stroke="#3a3a3a" stroke-width="1.0" stroke-linejoin="round" stroke-linecap="round"/>
<rect x="408.3" y="355.6" width="5.4" height="5.4" fill="#3a3a3a" transform="rotate(45 411.0 358.3)"/>
<rect x="431.4" y="354.5" width="5.4" height="5.4" fill="#3a3a3a" transform="rotate(45 434.1 357.2)"/>
<rect x="454.4" y="352.7" width="5.4" height="5.4" fill="#3a3a3a" transform="rotate(45 457.1 355.4)"/>
<rect x="477.4" y="351.0" width="5.4" height="5.4" fill="#3a3a3a" transform="rotate(45 480.1 353.7)"/>
<rect x="500.5" y="361.9" width="5.4" height="5.4" fill="#3a3a3a" transform="rotate(45 503.2 364.6)"/>
<rect x="523.5" y="375.0" width="5.4" height="5.4" fill="#3a3a3a" transform="rotate(45 526.2 377.7)"/>
<rect x="546.6" y="394.4" width="5.4" height="5.4" fill="#3a3a3a" transform="rotate(45 549.3 397.1)"/>
<rect x="569.6" y="421.5" width="5.4" height="5.4" fill="#3a3a3a" transform="rotate(45 572.4 424.2)"/>
<rect x="592.7" y="421.5" width="5.4" height="5.4" fill="#3a3a3a" transform="rotate(45 595.4 424.2)"/>
<rect x="615.8" y="413.7" width="5.4" height="5.4" fill="#3a3a3a" transform="rotate(45 618.5 416.4)"/>
<polyline points="411.0,373.4 434.1,380.5 457.1,399.4 480.1,418.9 503.2,471.6 526.2,495.5 549.3,512.5 572.4,518.5 595.4,514.2 618.5,503.3" fill="none" stroke="#e6927a" stroke-width="1.1" stroke-linejoin="round" stroke-linecap="round"/>
<rect x="408.3" y="370.7" width="5.4" height="5.4" fill="#e6927a" transform="rotate(45 411.0 373.4)"/>
<rect x="431.4" y="377.8" width="5.4" height="5.4" fill="#e6927a" transform="rotate(45 434.1 380.5)"/>
<rect x="454.4" y="396.7" width="5.4" height="5.4" fill="#e6927a" transform="rotate(45 457.1 399.4)"/>
<rect x="477.4" y="416.2" width="5.4" height="5.4" fill="#e6927a" transform="rotate(45 480.1 418.9)"/>
<rect x="500.5" y="468.9" width="5.4" height="5.4" fill="#e6927a" transform="rotate(45 503.2 471.6)"/>
<rect x="523.5" y="492.8" width="5.4" height="5.4" fill="#e6927a" transform="rotate(45 526.2 495.5)"/>
<rect x="546.6" y="509.8" width="5.4" height="5.4" fill="#e6927a" transform="rotate(45 549.3 512.5)"/>
<rect x="569.6" y="515.8" width="5.4" height="5.4" fill="#e6927a" transform="rotate(45 572.4 518.5)"/>
<rect x="592.7" y="511.5" width="5.4" height="5.4" fill="#e6927a" transform="rotate(45 595.4 514.2)"/>
<rect x="615.8" y="500.6" width="5.4" height="5.4" fill="#e6927a" transform="rotate(45 618.5 503.3)"/>
<polyline points="411.0,464.5 434.1,465.0 457.1,468.0 480.1,470.5 503.2,482.5 526.2,492.5 549.3,497.0 572.4,486.0 595.4,476.0 618.5,458.2" fill="none" stroke="#f2c0b0" stroke-width="1.1" stroke-linejoin="round" stroke-linecap="round"/>
<rect x="408.4" y="461.9" width="5.2" height="5.2" fill="#f2c0b0" transform="rotate(45 411.0 464.5)"/>
<rect x="431.4" y="462.4" width="5.2" height="5.2" fill="#f2c0b0" transform="rotate(45 434.1 465.0)"/>
<rect x="454.5" y="465.4" width="5.2" height="5.2" fill="#f2c0b0" transform="rotate(45 457.1 468.0)"/>
<rect x="477.5" y="467.9" width="5.2" height="5.2" fill="#f2c0b0" transform="rotate(45 480.1 470.5)"/>
<rect x="500.6" y="479.9" width="5.2" height="5.2" fill="#f2c0b0" transform="rotate(45 503.2 482.5)"/>
<rect x="523.6" y="489.9" width="5.2" height="5.2" fill="#f2c0b0" transform="rotate(45 526.2 492.5)"/>
<rect x="546.7" y="494.4" width="5.2" height="5.2" fill="#f2c0b0" transform="rotate(45 549.3 497.0)"/>
<rect x="569.8" y="483.4" width="5.2" height="5.2" fill="#f2c0b0" transform="rotate(45 572.4 486.0)"/>
<rect x="592.8" y="473.4" width="5.2" height="5.2" fill="#f2c0b0" transform="rotate(45 595.4 476.0)"/>
<rect x="615.9" y="455.6" width="5.2" height="5.2" fill="#f2c0b0" transform="rotate(45 618.5 458.2)"/>
<rect x="583.1" y="424" width="23.3" height="39.6" fill="#a3131d"/>
<polyline points="411.0,462.8 434.1,463.5 457.1,466.4 480.1,468.8 503.2,480.5 526.2,490.0 549.3,494.6 572.4,483.7 595.4,473.4 618.5,454.7" fill="none" stroke="#a80f26" stroke-width="1.4" stroke-linejoin="round" stroke-linecap="round"/>
<rect x="408.3" y="460.1" width="5.4" height="5.4" fill="#bf1029" transform="rotate(45 411.0 462.8)"/>
<rect x="431.4" y="460.8" width="5.4" height="5.4" fill="#bf1029" transform="rotate(45 434.1 463.5)"/>
<rect x="454.4" y="463.7" width="5.4" height="5.4" fill="#bf1029" transform="rotate(45 457.1 466.4)"/>
<rect x="477.4" y="466.1" width="5.4" height="5.4" fill="#bf1029" transform="rotate(45 480.1 468.8)"/>
<rect x="500.5" y="477.8" width="5.4" height="5.4" fill="#bf1029" transform="rotate(45 503.2 480.5)"/>
<rect x="523.5" y="487.3" width="5.4" height="5.4" fill="#bf1029" transform="rotate(45 526.2 490.0)"/>
<rect x="546.6" y="491.9" width="5.4" height="5.4" fill="#bf1029" transform="rotate(45 549.3 494.6)"/>
<rect x="569.6" y="481.0" width="5.4" height="5.4" fill="#bf1029" transform="rotate(45 572.4 483.7)"/>
<rect x="592.7" y="470.7" width="5.4" height="5.4" fill="#bf1029" transform="rotate(45 595.4 473.4)"/>
<rect x="615.8" y="452.0" width="5.4" height="5.4" fill="#bf1029" transform="rotate(45 618.5 454.7)"/>
<text x="624.7" y="355.1" font-size="10.2" fill="#b8122e" font-weight="bold" text-anchor="end" textLength="32" lengthAdjust="spacingAndGlyphs" stroke="#b8122e" stroke-width="0.22">09-Jan</text>
<text x="624.7" y="365.9" font-size="10.2" fill="#f0dcd4" font-weight="bold" text-anchor="end" textLength="32.4" lengthAdjust="spacingAndGlyphs" stroke="#f0dcd4" stroke-width="0.22">10-Dec</text>
<text x="624.7" y="376.7" font-size="10.2" fill="#e5a283" font-weight="bold" text-anchor="end" textLength="47" lengthAdjust="spacingAndGlyphs" stroke="#e5a283" stroke-width="0.22">11-Sep 24</text>
<text x="624.7" y="387.5" font-size="10.2" fill="#2e2e2e" font-weight="bold" text-anchor="end" textLength="45.7" lengthAdjust="spacingAndGlyphs" stroke="#2e2e2e" stroke-width="0.22">19-Oct 23</text>
<text x="624.7" y="398.3" font-size="10.2" fill="#6a6a6a" font-weight="bold" text-anchor="end" textLength="69.5" lengthAdjust="spacingAndGlyphs" stroke="#6a6a6a" stroke-width="0.22">Others last 1Y</text>
<text x="624.7" y="409.2" font-size="10.2" fill="#8e1a2a" font-weight="bold" text-anchor="end" textLength="63" lengthAdjust="spacingAndGlyphs" stroke="#8e1a2a" stroke-width="0.22">Danger Zone</text>
<text x="342" y="561.5" font-size="7.4" fill="#333" text-anchor="start" textLength="72.9" lengthAdjust="spacingAndGlyphs" stroke="#333" stroke-width="0.22">Source: Bloomberg, HSBC</text>
<g fill="none" stroke="#e4502a" stroke-width="2.6" stroke-linecap="round"><circle cx="661.4" cy="559.4" r="8.6"/><line x1="667.8" y1="566" x2="673.8" y2="572" stroke-width="3"/></g>
<g stroke="#e4502a" stroke-width="3"><line x1="656.8" y1="559.4" x2="666" y2="559.4"/><line x1="661.4" y1="554.8" x2="661.4" y2="564"/></g>
</svg>
</body></html>
